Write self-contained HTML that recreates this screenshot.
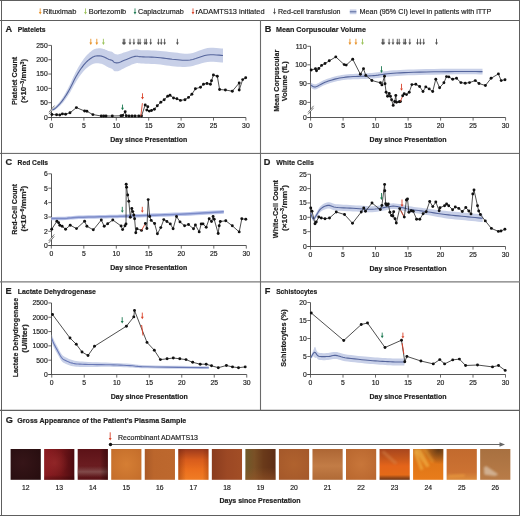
<!DOCTYPE html><html><head><meta charset="utf-8"><style>html,body{margin:0;padding:0;background:#fff;overflow:hidden;}svg{display:block;will-change:transform;}text{font-family:"Liberation Sans", sans-serif;}</style></head><body>
<svg width="520" height="516" viewBox="0 0 520 516">
<rect x="0" y="0" width="520" height="516" fill="#fff"/>
<line x1="40.20" y1="8.40" x2="40.20" y2="12.50" stroke="#e8922a" stroke-width="0.85"/>
<path d="M38.80,12.10 L41.60,12.10 L40.20,14.40Z" fill="#e8922a"/>
<text x="43.00" y="14.10" font-size="7.25" text-anchor="start" font-weight="normal" fill="#1e1e1e"  textLength="33.3" lengthAdjust="spacingAndGlyphs" stroke="#1e1e1e" stroke-width="0.18">Rituximab</text>
<line x1="85.50" y1="8.40" x2="85.50" y2="12.50" stroke="#9cc35c" stroke-width="0.85"/>
<path d="M84.10,12.10 L86.90,12.10 L85.50,14.40Z" fill="#9cc35c"/>
<text x="88.70" y="14.10" font-size="7.25" text-anchor="start" font-weight="normal" fill="#1e1e1e"  textLength="37.5" lengthAdjust="spacingAndGlyphs" stroke="#1e1e1e" stroke-width="0.18">Bortezomib</text>
<line x1="135.00" y1="8.40" x2="135.00" y2="12.50" stroke="#1e7a52" stroke-width="0.85"/>
<path d="M133.60,12.10 L136.40,12.10 L135.00,14.40Z" fill="#1e7a52"/>
<text x="138.00" y="14.10" font-size="7.25" text-anchor="start" font-weight="normal" fill="#1e1e1e"  textLength="45.8" lengthAdjust="spacingAndGlyphs" stroke="#1e1e1e" stroke-width="0.18">Caplacizumab</text>
<line x1="193.00" y1="8.40" x2="193.00" y2="12.50" stroke="#d9432b" stroke-width="0.85"/>
<path d="M191.60,12.10 L194.40,12.10 L193.00,14.40Z" fill="#d9432b"/>
<text x="195.50" y="14.10" font-size="7.25" text-anchor="start" font-weight="normal" fill="#1e1e1e"  textLength="69" lengthAdjust="spacingAndGlyphs" stroke="#1e1e1e" stroke-width="0.18">rADAMTS13 initiated</text>
<line x1="274.50" y1="8.40" x2="274.50" y2="12.50" stroke="#505050" stroke-width="0.85"/>
<path d="M273.10,12.10 L275.90,12.10 L274.50,14.40Z" fill="#505050"/>
<text x="278.00" y="14.10" font-size="7.25" text-anchor="start" font-weight="normal" fill="#1e1e1e"  textLength="62.5" lengthAdjust="spacingAndGlyphs" stroke="#1e1e1e" stroke-width="0.18">Red-cell transfusion</text>
<rect x="349.8" y="9.4" width="6.6" height="4.8" fill="#c8d0e8"/>
<line x1="349.80" y1="11.80" x2="356.40" y2="11.80" stroke="#55659c" stroke-width="1.0"/>
<text x="359.50" y="14.10" font-size="7.25" text-anchor="start" font-weight="normal" fill="#1e1e1e"  textLength="131.8" lengthAdjust="spacingAndGlyphs" stroke="#1e1e1e" stroke-width="0.18">Mean (95% CI) level in patients with iTTP</text>
<text x="5.60" y="32.00" font-size="9.2" text-anchor="start" font-weight="bold" fill="#1e1e1e"  stroke="#1e1e1e" stroke-width="0.2">A</text>
<text x="17.70" y="32.00" font-size="8.0" text-anchor="start" font-weight="bold" fill="#1e1e1e"  textLength="27.9" lengthAdjust="spacingAndGlyphs" stroke="#1e1e1e" stroke-width="0.2">Platelets</text>
<line x1="51.50" y1="45.40" x2="51.50" y2="117.50" stroke="#444" stroke-width="0.9"/>
<line x1="48.30" y1="117.50" x2="51.50" y2="117.50" stroke="#444" stroke-width="0.8"/>
<text x="47.70" y="119.85" font-size="6.8" text-anchor="end" font-weight="normal" fill="#1e1e1e" stroke="#1e1e1e" stroke-width="0.18">0</text>
<line x1="48.30" y1="102.68" x2="51.50" y2="102.68" stroke="#444" stroke-width="0.8"/>
<text x="47.70" y="105.03" font-size="6.8" text-anchor="end" font-weight="normal" fill="#1e1e1e" stroke="#1e1e1e" stroke-width="0.18">50</text>
<line x1="48.30" y1="88.36" x2="51.50" y2="88.36" stroke="#444" stroke-width="0.8"/>
<text x="47.70" y="90.71" font-size="6.8" text-anchor="end" font-weight="normal" fill="#1e1e1e" stroke="#1e1e1e" stroke-width="0.18">100</text>
<line x1="48.30" y1="74.04" x2="51.50" y2="74.04" stroke="#444" stroke-width="0.8"/>
<text x="47.70" y="76.39" font-size="6.8" text-anchor="end" font-weight="normal" fill="#1e1e1e" stroke="#1e1e1e" stroke-width="0.18">150</text>
<line x1="48.30" y1="59.72" x2="51.50" y2="59.72" stroke="#444" stroke-width="0.8"/>
<text x="47.70" y="62.07" font-size="6.8" text-anchor="end" font-weight="normal" fill="#1e1e1e" stroke="#1e1e1e" stroke-width="0.18">200</text>
<line x1="48.30" y1="45.40" x2="51.50" y2="45.40" stroke="#444" stroke-width="0.8"/>
<text x="47.70" y="47.75" font-size="6.8" text-anchor="end" font-weight="normal" fill="#1e1e1e" stroke="#1e1e1e" stroke-width="0.18">250</text>
<line x1="48.30" y1="117.50" x2="245.90" y2="117.50" stroke="#444" stroke-width="0.9"/>
<line x1="51.50" y1="117.50" x2="51.50" y2="120.60" stroke="#444" stroke-width="0.8"/>
<text x="51.50" y="127.90" font-size="6.8" text-anchor="middle" font-weight="normal" fill="#1e1e1e" stroke="#1e1e1e" stroke-width="0.18">0</text>
<line x1="83.90" y1="117.50" x2="83.90" y2="120.60" stroke="#444" stroke-width="0.8"/>
<text x="83.90" y="127.90" font-size="6.8" text-anchor="middle" font-weight="normal" fill="#1e1e1e" stroke="#1e1e1e" stroke-width="0.18">5</text>
<line x1="116.30" y1="117.50" x2="116.30" y2="120.60" stroke="#444" stroke-width="0.8"/>
<text x="116.30" y="127.90" font-size="6.8" text-anchor="middle" font-weight="normal" fill="#1e1e1e" stroke="#1e1e1e" stroke-width="0.18">10</text>
<line x1="148.70" y1="117.50" x2="148.70" y2="120.60" stroke="#444" stroke-width="0.8"/>
<text x="148.70" y="127.90" font-size="6.8" text-anchor="middle" font-weight="normal" fill="#1e1e1e" stroke="#1e1e1e" stroke-width="0.18">15</text>
<line x1="181.10" y1="117.50" x2="181.10" y2="120.60" stroke="#444" stroke-width="0.8"/>
<text x="181.10" y="127.90" font-size="6.8" text-anchor="middle" font-weight="normal" fill="#1e1e1e" stroke="#1e1e1e" stroke-width="0.18">20</text>
<line x1="213.50" y1="117.50" x2="213.50" y2="120.60" stroke="#444" stroke-width="0.8"/>
<text x="213.50" y="127.90" font-size="6.8" text-anchor="middle" font-weight="normal" fill="#1e1e1e" stroke="#1e1e1e" stroke-width="0.18">25</text>
<line x1="245.90" y1="117.50" x2="245.90" y2="120.60" stroke="#444" stroke-width="0.8"/>
<text x="245.90" y="127.90" font-size="6.8" text-anchor="middle" font-weight="normal" fill="#1e1e1e" stroke="#1e1e1e" stroke-width="0.18">30</text>
<text x="148.70" y="141.60" font-size="7.6" text-anchor="middle" font-weight="bold" fill="#1e1e1e"  textLength="77" lengthAdjust="spacingAndGlyphs" stroke="#1e1e1e" stroke-width="0.2">Day since Presentation</text>
<path d="M48.90,112.20 L54.50,105.60 L54.50,107.60 L48.90,114.20Z" fill="#fff"/>
<line x1="48.90" y1="112.20" x2="54.50" y2="105.60" stroke="#444" stroke-width="0.7"/>
<line x1="48.90" y1="114.20" x2="54.50" y2="107.60" stroke="#444" stroke-width="0.7"/>
<text transform="translate(14.20,80.90) rotate(-90)" x="0" y="2.74" font-size="7.6" text-anchor="middle" font-weight="bold" fill="#1e1e1e" stroke="#1e1e1e" stroke-width="0.2" textLength="48.2" lengthAdjust="spacingAndGlyphs">Platelet Count</text>
<text transform="translate(23.60,80.90) rotate(-90)" x="0" y="2.74" font-size="7.6" text-anchor="middle" font-weight="bold" fill="#1e1e1e" stroke="#1e1e1e" stroke-width="0.2" textLength="44" lengthAdjust="spacingAndGlyphs">(×10<tspan dy="-2.8" font-size="5">−3</tspan><tspan dy="2.8">/mm</tspan><tspan dy="-2.8" font-size="5">3</tspan><tspan dy="2.8">)</tspan></text>
<path d="M52.50,108.80 L52.74,108.67 L53.04,108.53 L53.41,108.34 L53.86,108.07 L54.39,107.67 L55.00,107.10 L55.74,106.33 L56.61,105.37 L57.57,104.30 L58.55,103.14 L59.51,101.97 L60.40,100.82 L61.21,99.69 L61.99,98.55 L62.75,97.39 L63.50,96.21 L64.24,94.98 L65.00,93.70 L65.75,92.41 L66.49,91.12 L67.22,89.79 L67.97,88.38 L68.76,86.85 L69.60,85.17 L70.52,83.25 L71.51,81.11 L72.54,78.85 L73.57,76.59 L74.57,74.44 L75.50,72.54 L76.34,70.91 L77.13,69.43 L77.88,68.07 L78.63,66.76 L79.39,65.48 L80.20,64.18 L81.06,62.83 L81.95,61.48 L82.86,60.16 L83.77,58.87 L84.69,57.66 L85.60,56.54 L86.52,55.51 L87.46,54.55 L88.39,53.65 L89.31,52.82 L90.19,52.07 L91.00,51.40 L91.72,50.82 L92.37,50.34 L92.97,49.93 L93.57,49.59 L94.20,49.29 L94.90,49.01 L95.69,48.78 L96.55,48.60 L97.44,48.46 L98.34,48.37 L99.20,48.32 L100.00,48.31 L100.72,48.34 L101.40,48.42 L102.04,48.54 L102.67,48.69 L103.32,48.88 L104.00,49.09 L104.73,49.35 L105.49,49.66 L106.26,50.00 L107.03,50.34 L107.78,50.66 L108.50,50.93 L109.19,51.14 L109.87,51.30 L110.54,51.44 L111.17,51.57 L111.76,51.73 L112.30,51.93 L112.75,52.21 L113.11,52.56 L113.43,52.92 L113.75,53.27 L114.13,53.58 L114.60,53.85 L115.16,54.05 L115.77,54.22 L116.43,54.33 L117.14,54.39 L117.92,54.38 L118.75,54.29 L119.63,54.09 L120.54,53.80 L121.51,53.44 L122.56,53.04 L123.72,52.61 L125.00,52.19 L126.50,51.73 L128.20,51.18 L130.02,50.61 L131.82,50.09 L133.52,49.66 L135.00,49.40 L136.11,49.32 L136.91,49.38 L137.59,49.54 L138.37,49.77 L139.44,50.02 L141.00,50.19 L143.13,50.25 L145.69,50.30 L148.53,50.35 L151.54,50.43 L154.57,50.54 L157.50,50.70 L160.39,50.94 L163.35,51.26 L166.34,51.61 L169.31,51.96 L172.22,52.27 L175.00,52.50 L177.62,52.84 L180.09,53.19 L182.50,53.49 L184.91,53.69 L187.38,53.75 L190.00,53.60 L192.80,52.95 L195.72,51.98 L198.72,50.86 L201.72,49.74 L204.67,48.78 L207.50,48.12 L210.38,47.82 L213.39,47.78 L216.34,47.94 L219.06,48.17 L221.34,48.38 L223.00,48.50 L223.00,62.50 L221.34,62.38 L219.06,62.17 L216.34,61.94 L213.39,61.78 L210.38,61.73 L207.50,61.88 L204.67,62.38 L201.72,63.18 L198.72,64.14 L195.72,65.09 L192.80,65.90 L190.00,66.40 L187.38,66.76 L184.91,66.90 L182.50,66.89 L180.09,66.78 L177.62,66.63 L175.00,66.50 L172.22,66.21 L169.31,65.83 L166.34,65.41 L163.35,64.99 L160.39,64.61 L157.50,64.30 L154.57,64.07 L151.54,63.89 L148.53,63.75 L145.69,63.63 L143.13,63.52 L141.00,63.41 L139.44,63.31 L138.37,63.23 L137.59,63.12 L136.91,63.07 L136.11,63.14 L135.00,63.40 L133.52,63.90 L131.82,64.59 L130.02,65.41 L128.20,66.27 L126.50,67.10 L125.00,67.81 L123.72,68.43 L122.56,69.05 L121.51,69.62 L120.54,70.14 L119.63,70.58 L118.75,70.91 L117.92,71.14 L117.14,71.28 L116.43,71.34 L115.77,71.33 L115.16,71.26 L114.60,71.15 L114.13,70.96 L113.75,70.63 L113.43,70.23 L113.11,69.81 L112.75,69.42 L112.30,69.07 L111.76,68.78 L111.17,68.52 L110.54,68.29 L109.87,68.05 L109.19,67.78 L108.50,67.47 L107.78,67.08 L107.03,66.64 L106.26,66.18 L105.49,65.71 L104.73,65.28 L104.00,64.91 L103.32,64.59 L102.67,64.31 L102.04,64.05 L101.40,63.83 L100.72,63.64 L100.00,63.49 L99.20,63.38 L98.34,63.30 L97.44,63.25 L96.55,63.24 L95.69,63.29 L94.90,63.39 L94.20,63.52 L93.57,63.70 L92.97,63.93 L92.37,64.21 L91.72,64.57 L91.00,65.00 L90.19,65.51 L89.31,66.08 L88.39,66.73 L87.46,67.44 L86.52,68.22 L85.60,69.06 L84.69,69.98 L83.77,70.98 L82.86,72.04 L81.95,73.15 L81.06,74.29 L80.20,75.42 L79.39,76.54 L78.63,77.64 L77.88,78.76 L77.13,79.94 L76.34,81.23 L75.50,82.66 L74.57,84.28 L73.57,86.07 L72.54,87.96 L71.51,89.85 L70.52,91.64 L69.60,93.23 L68.76,94.60 L67.97,95.85 L67.22,96.99 L66.49,98.06 L65.75,99.08 L65.00,100.10 L64.24,101.08 L63.50,102.01 L62.75,102.89 L61.99,103.75 L61.21,104.57 L60.40,105.38 L59.51,106.22 L58.55,107.08 L57.57,107.92 L56.61,108.69 L55.74,109.37 L55.00,109.90 L54.39,110.27 L53.86,110.50 L53.41,110.63 L53.04,110.70 L52.74,110.74 L52.50,110.80Z" fill="#c8d0e8"/>
<path d="M52.50,109.80 L52.74,109.71 L53.04,109.61 L53.41,109.49 L53.86,109.29 L54.39,108.97 L55.00,108.50 L55.74,107.85 L56.61,107.03 L57.57,106.11 L58.55,105.11 L59.51,104.09 L60.40,103.10 L61.21,102.13 L61.99,101.15 L62.75,100.14 L63.50,99.11 L64.24,98.03 L65.00,96.90 L65.75,95.75 L66.49,94.59 L67.22,93.39 L67.97,92.11 L68.76,90.73 L69.60,89.20 L70.52,87.45 L71.51,85.48 L72.54,83.41 L73.57,81.33 L74.57,79.36 L75.50,77.60 L76.34,76.07 L77.13,74.69 L77.88,73.41 L78.63,72.20 L79.39,71.01 L80.20,69.80 L81.06,68.56 L81.95,67.32 L82.86,66.10 L83.77,64.93 L84.69,63.82 L85.60,62.80 L86.52,61.86 L87.46,60.99 L88.39,60.19 L89.31,59.45 L90.19,58.79 L91.00,58.20 L91.72,57.70 L92.37,57.28 L92.97,56.93 L93.57,56.64 L94.20,56.40 L94.90,56.20 L95.69,56.04 L96.55,55.92 L97.44,55.86 L98.34,55.83 L99.20,55.85 L100.00,55.90 L100.72,55.99 L101.40,56.12 L102.04,56.29 L102.67,56.50 L103.32,56.74 L104.00,57.00 L104.73,57.31 L105.49,57.69 L106.26,58.09 L107.03,58.49 L107.78,58.87 L108.50,59.20 L109.19,59.46 L109.87,59.67 L110.54,59.86 L111.17,60.05 L111.76,60.25 L112.30,60.50 L112.75,60.81 L113.11,61.19 L113.43,61.58 L113.75,61.95 L114.13,62.27 L114.60,62.50 L115.16,62.66 L115.77,62.77 L116.43,62.84 L117.14,62.84 L117.92,62.76 L118.75,62.60 L119.63,62.33 L120.54,61.97 L121.51,61.53 L122.56,61.04 L123.72,60.52 L125.00,60.00 L126.50,59.41 L128.20,58.73 L130.02,58.01 L131.82,57.34 L133.52,56.78 L135.00,56.40 L136.11,56.23 L136.91,56.23 L137.59,56.33 L138.37,56.50 L139.44,56.67 L141.00,56.80 L143.13,56.88 L145.69,56.96 L148.53,57.05 L151.54,57.16 L154.57,57.30 L157.50,57.50 L160.39,57.78 L163.35,58.13 L166.34,58.51 L169.31,58.90 L172.22,59.24 L175.00,59.50 L177.62,59.73 L180.09,59.98 L182.50,60.19 L184.91,60.30 L187.38,60.25 L190.00,60.00 L192.80,59.42 L195.72,58.54 L198.72,57.50 L201.72,56.46 L204.67,55.58 L207.50,55.00 L210.38,54.77 L213.39,54.78 L216.34,54.94 L219.06,55.17 L221.34,55.38 L223.00,55.50" fill="none" stroke="#55659c" stroke-width="1.1" stroke-linejoin="round"/>
<path d="M51.90,114.50 L56.60,114.80 L59.80,115.00 L62.40,113.90 L65.60,114.20 L70.00,112.80 L76.40,107.60 L84.60,111.00 L86.90,111.30 L92.90,114.60 L101.30,116.00 L103.70,116.00 L106.00,116.00 L112.30,116.00 L121.00,115.80 L122.70,115.50 L125.20,111.70 L126.20,115.80 L129.00,116.00 L132.00,116.00 L135.00,116.00 L138.80,116.00 L141.50,116.00 L145.20,105.00 L147.80,106.80 L146.80,110.10 L149.30,111.10 L151.50,110.50 L154.40,109.20 L157.30,105.70 L160.80,102.20 L164.20,99.70 L167.70,96.20 L170.00,95.30 L173.50,98.00 L176.90,98.80 L180.40,100.40 L185.00,99.70 L188.50,97.40 L191.90,94.20 L195.40,88.80 L200.50,87.20 L203.50,84.20 L207.00,83.50 L210.40,84.20 L211.50,80.80 L213.40,75.00 L217.30,76.20 L219.60,89.50 L225.40,90.00 L232.30,91.20 L239.20,83.00 L239.20,90.00 L242.70,79.60 L245.70,77.80" fill="none" stroke="#222" stroke-width="0.8" stroke-linejoin="round"/>
<circle cx="51.90" cy="114.50" r="1.45" fill="#111"/>
<circle cx="56.60" cy="114.80" r="1.45" fill="#111"/>
<circle cx="59.80" cy="115.00" r="1.45" fill="#111"/>
<circle cx="62.40" cy="113.90" r="1.45" fill="#111"/>
<circle cx="65.60" cy="114.20" r="1.45" fill="#111"/>
<circle cx="70.00" cy="112.80" r="1.45" fill="#111"/>
<circle cx="76.40" cy="107.60" r="1.45" fill="#111"/>
<circle cx="84.60" cy="111.00" r="1.45" fill="#111"/>
<circle cx="86.90" cy="111.30" r="1.45" fill="#111"/>
<circle cx="92.90" cy="114.60" r="1.45" fill="#111"/>
<circle cx="101.30" cy="116.00" r="1.45" fill="#111"/>
<circle cx="103.70" cy="116.00" r="1.45" fill="#111"/>
<circle cx="106.00" cy="116.00" r="1.45" fill="#111"/>
<circle cx="112.30" cy="116.00" r="1.45" fill="#111"/>
<circle cx="121.00" cy="115.80" r="1.45" fill="#111"/>
<circle cx="122.70" cy="115.50" r="1.45" fill="#111"/>
<circle cx="125.20" cy="111.70" r="1.45" fill="#111"/>
<circle cx="126.20" cy="115.80" r="1.45" fill="#111"/>
<circle cx="129.00" cy="116.00" r="1.45" fill="#111"/>
<circle cx="132.00" cy="116.00" r="1.45" fill="#111"/>
<circle cx="135.00" cy="116.00" r="1.45" fill="#111"/>
<circle cx="138.80" cy="116.00" r="1.45" fill="#111"/>
<circle cx="141.50" cy="116.00" r="1.45" fill="#111"/>
<circle cx="145.20" cy="105.00" r="1.45" fill="#111"/>
<circle cx="147.80" cy="106.80" r="1.45" fill="#111"/>
<circle cx="146.80" cy="110.10" r="1.45" fill="#111"/>
<circle cx="149.30" cy="111.10" r="1.45" fill="#111"/>
<circle cx="151.50" cy="110.50" r="1.45" fill="#111"/>
<circle cx="154.40" cy="109.20" r="1.45" fill="#111"/>
<circle cx="157.30" cy="105.70" r="1.45" fill="#111"/>
<circle cx="160.80" cy="102.20" r="1.45" fill="#111"/>
<circle cx="164.20" cy="99.70" r="1.45" fill="#111"/>
<circle cx="167.70" cy="96.20" r="1.45" fill="#111"/>
<circle cx="170.00" cy="95.30" r="1.45" fill="#111"/>
<circle cx="173.50" cy="98.00" r="1.45" fill="#111"/>
<circle cx="176.90" cy="98.80" r="1.45" fill="#111"/>
<circle cx="180.40" cy="100.40" r="1.45" fill="#111"/>
<circle cx="185.00" cy="99.70" r="1.45" fill="#111"/>
<circle cx="188.50" cy="97.40" r="1.45" fill="#111"/>
<circle cx="191.90" cy="94.20" r="1.45" fill="#111"/>
<circle cx="195.40" cy="88.80" r="1.45" fill="#111"/>
<circle cx="200.50" cy="87.20" r="1.45" fill="#111"/>
<circle cx="203.50" cy="84.20" r="1.45" fill="#111"/>
<circle cx="207.00" cy="83.50" r="1.45" fill="#111"/>
<circle cx="210.40" cy="84.20" r="1.45" fill="#111"/>
<circle cx="211.50" cy="80.80" r="1.45" fill="#111"/>
<circle cx="213.40" cy="75.00" r="1.45" fill="#111"/>
<circle cx="217.30" cy="76.20" r="1.45" fill="#111"/>
<circle cx="219.60" cy="89.50" r="1.45" fill="#111"/>
<circle cx="225.40" cy="90.00" r="1.45" fill="#111"/>
<circle cx="232.30" cy="91.20" r="1.45" fill="#111"/>
<circle cx="239.20" cy="83.00" r="1.45" fill="#111"/>
<circle cx="239.20" cy="90.00" r="1.45" fill="#111"/>
<circle cx="242.70" cy="79.60" r="1.45" fill="#111"/>
<circle cx="245.70" cy="77.80" r="1.45" fill="#111"/>
<line x1="140.80" y1="116.20" x2="142.40" y2="103.20" stroke="#d9432b" stroke-width="0.9"/>
<line x1="90.80" y1="38.80" x2="90.80" y2="43.00" stroke="#e8922a" stroke-width="0.9"/>
<path d="M89.35,42.60 L92.25,42.60 L90.80,45.00Z" fill="#e8922a"/>
<line x1="96.80" y1="38.80" x2="96.80" y2="43.00" stroke="#e8922a" stroke-width="0.9"/>
<path d="M95.35,42.60 L98.25,42.60 L96.80,45.00Z" fill="#e8922a"/>
<line x1="103.40" y1="38.80" x2="103.40" y2="43.00" stroke="#9cc35c" stroke-width="0.9"/>
<path d="M101.95,42.60 L104.85,42.60 L103.40,45.00Z" fill="#9cc35c"/>
<line x1="123.30" y1="38.80" x2="123.30" y2="43.00" stroke="#505050" stroke-width="0.9"/>
<path d="M121.85,42.60 L124.75,42.60 L123.30,45.00Z" fill="#505050"/>
<line x1="124.70" y1="38.80" x2="124.70" y2="43.00" stroke="#505050" stroke-width="0.9"/>
<path d="M123.25,42.60 L126.15,42.60 L124.70,45.00Z" fill="#505050"/>
<line x1="130.00" y1="38.80" x2="130.00" y2="43.00" stroke="#505050" stroke-width="0.9"/>
<path d="M128.55,42.60 L131.45,42.60 L130.00,45.00Z" fill="#505050"/>
<line x1="133.90" y1="38.80" x2="133.90" y2="43.00" stroke="#505050" stroke-width="0.9"/>
<path d="M132.45,42.60 L135.35,42.60 L133.90,45.00Z" fill="#505050"/>
<line x1="138.20" y1="38.80" x2="138.20" y2="43.00" stroke="#505050" stroke-width="0.9"/>
<path d="M136.75,42.60 L139.65,42.60 L138.20,45.00Z" fill="#505050"/>
<line x1="140.10" y1="38.80" x2="140.10" y2="43.00" stroke="#505050" stroke-width="0.9"/>
<path d="M138.65,42.60 L141.55,42.60 L140.10,45.00Z" fill="#505050"/>
<line x1="144.90" y1="38.80" x2="144.90" y2="43.00" stroke="#505050" stroke-width="0.9"/>
<path d="M143.45,42.60 L146.35,42.60 L144.90,45.00Z" fill="#505050"/>
<line x1="146.40" y1="38.80" x2="146.40" y2="43.00" stroke="#505050" stroke-width="0.9"/>
<path d="M144.95,42.60 L147.85,42.60 L146.40,45.00Z" fill="#505050"/>
<line x1="150.70" y1="38.80" x2="150.70" y2="43.00" stroke="#505050" stroke-width="0.9"/>
<path d="M149.25,42.60 L152.15,42.60 L150.70,45.00Z" fill="#505050"/>
<line x1="158.40" y1="38.80" x2="158.40" y2="43.00" stroke="#505050" stroke-width="0.9"/>
<path d="M156.95,42.60 L159.85,42.60 L158.40,45.00Z" fill="#505050"/>
<line x1="161.30" y1="38.80" x2="161.30" y2="43.00" stroke="#505050" stroke-width="0.9"/>
<path d="M159.85,42.60 L162.75,42.60 L161.30,45.00Z" fill="#505050"/>
<line x1="164.60" y1="38.80" x2="164.60" y2="43.00" stroke="#505050" stroke-width="0.9"/>
<path d="M163.15,42.60 L166.05,42.60 L164.60,45.00Z" fill="#505050"/>
<line x1="177.40" y1="38.80" x2="177.40" y2="43.00" stroke="#505050" stroke-width="0.9"/>
<path d="M175.95,42.60 L178.85,42.60 L177.40,45.00Z" fill="#505050"/>
<line x1="122.50" y1="104.60" x2="122.50" y2="108.20" stroke="#1e7a52" stroke-width="0.9"/>
<path d="M121.05,107.80 L123.95,107.80 L122.50,110.20Z" fill="#1e7a52"/>
<line x1="142.50" y1="93.30" x2="142.50" y2="97.50" stroke="#d9432b" stroke-width="0.9"/>
<path d="M141.05,97.10 L143.95,97.10 L142.50,99.50Z" fill="#d9432b"/>
<text x="264.80" y="32.00" font-size="9.2" text-anchor="start" font-weight="bold" fill="#1e1e1e"  stroke="#1e1e1e" stroke-width="0.2">B</text>
<text x="276.00" y="32.00" font-size="8.0" text-anchor="start" font-weight="bold" fill="#1e1e1e"  textLength="90" lengthAdjust="spacingAndGlyphs" stroke="#1e1e1e" stroke-width="0.2">Mean Corpuscular Volume</text>
<line x1="310.50" y1="46.30" x2="310.50" y2="117.50" stroke="#444" stroke-width="0.9"/>
<line x1="307.30" y1="46.30" x2="310.50" y2="46.30" stroke="#444" stroke-width="0.8"/>
<text x="306.70" y="48.65" font-size="6.8" text-anchor="end" font-weight="normal" fill="#1e1e1e" stroke="#1e1e1e" stroke-width="0.18">110</text>
<line x1="307.30" y1="64.80" x2="310.50" y2="64.80" stroke="#444" stroke-width="0.8"/>
<text x="306.70" y="67.15" font-size="6.8" text-anchor="end" font-weight="normal" fill="#1e1e1e" stroke="#1e1e1e" stroke-width="0.18">100</text>
<line x1="307.30" y1="83.60" x2="310.50" y2="83.60" stroke="#444" stroke-width="0.8"/>
<text x="306.70" y="85.95" font-size="6.8" text-anchor="end" font-weight="normal" fill="#1e1e1e" stroke="#1e1e1e" stroke-width="0.18">90</text>
<line x1="307.30" y1="102.40" x2="310.50" y2="102.40" stroke="#444" stroke-width="0.8"/>
<text x="306.70" y="104.75" font-size="6.8" text-anchor="end" font-weight="normal" fill="#1e1e1e" stroke="#1e1e1e" stroke-width="0.18">80</text>
<line x1="307.30" y1="117.50" x2="310.50" y2="117.50" stroke="#444" stroke-width="0.8"/>
<text x="306.70" y="119.85" font-size="6.8" text-anchor="end" font-weight="normal" fill="#1e1e1e" stroke="#1e1e1e" stroke-width="0.18">0</text>
<line x1="307.30" y1="117.50" x2="505.60" y2="117.50" stroke="#444" stroke-width="0.9"/>
<line x1="310.60" y1="117.50" x2="310.60" y2="120.60" stroke="#444" stroke-width="0.8"/>
<text x="310.60" y="127.90" font-size="6.8" text-anchor="middle" font-weight="normal" fill="#1e1e1e" stroke="#1e1e1e" stroke-width="0.18">0</text>
<line x1="343.10" y1="117.50" x2="343.10" y2="120.60" stroke="#444" stroke-width="0.8"/>
<text x="343.10" y="127.90" font-size="6.8" text-anchor="middle" font-weight="normal" fill="#1e1e1e" stroke="#1e1e1e" stroke-width="0.18">5</text>
<line x1="375.60" y1="117.50" x2="375.60" y2="120.60" stroke="#444" stroke-width="0.8"/>
<text x="375.60" y="127.90" font-size="6.8" text-anchor="middle" font-weight="normal" fill="#1e1e1e" stroke="#1e1e1e" stroke-width="0.18">10</text>
<line x1="408.10" y1="117.50" x2="408.10" y2="120.60" stroke="#444" stroke-width="0.8"/>
<text x="408.10" y="127.90" font-size="6.8" text-anchor="middle" font-weight="normal" fill="#1e1e1e" stroke="#1e1e1e" stroke-width="0.18">15</text>
<line x1="440.60" y1="117.50" x2="440.60" y2="120.60" stroke="#444" stroke-width="0.8"/>
<text x="440.60" y="127.90" font-size="6.8" text-anchor="middle" font-weight="normal" fill="#1e1e1e" stroke="#1e1e1e" stroke-width="0.18">20</text>
<line x1="473.10" y1="117.50" x2="473.10" y2="120.60" stroke="#444" stroke-width="0.8"/>
<text x="473.10" y="127.90" font-size="6.8" text-anchor="middle" font-weight="normal" fill="#1e1e1e" stroke="#1e1e1e" stroke-width="0.18">25</text>
<line x1="505.60" y1="117.50" x2="505.60" y2="120.60" stroke="#444" stroke-width="0.8"/>
<text x="505.60" y="127.90" font-size="6.8" text-anchor="middle" font-weight="normal" fill="#1e1e1e" stroke="#1e1e1e" stroke-width="0.18">30</text>
<text x="408.10" y="141.70" font-size="7.6" text-anchor="middle" font-weight="bold" fill="#1e1e1e"  textLength="77" lengthAdjust="spacingAndGlyphs" stroke="#1e1e1e" stroke-width="0.2">Day since Presentation</text>
<path d="M308.00,112.40 L313.60,105.80 L313.60,107.80 L308.00,114.40Z" fill="#fff"/>
<line x1="308.00" y1="112.40" x2="313.60" y2="105.80" stroke="#444" stroke-width="0.7"/>
<line x1="308.00" y1="114.40" x2="313.60" y2="107.80" stroke="#444" stroke-width="0.7"/>
<text transform="translate(276.00,80.80) rotate(-90)" x="0" y="2.74" font-size="7.6" text-anchor="middle" font-weight="bold" fill="#1e1e1e" stroke="#1e1e1e" stroke-width="0.2" textLength="62" lengthAdjust="spacingAndGlyphs">Mean Corpuscular</text>
<text transform="translate(284.00,81.20) rotate(-90)" x="0" y="2.74" font-size="7.6" text-anchor="middle" font-weight="bold" fill="#1e1e1e" stroke="#1e1e1e" stroke-width="0.2" textLength="40" lengthAdjust="spacingAndGlyphs">Volume (fL)</text>
<path d="M310.80,82.50 L311.17,82.72 L311.69,83.06 L312.31,83.44 L312.96,83.82 L313.61,84.12 L314.20,84.30 L314.68,84.37 L315.09,84.37 L315.48,84.31 L315.94,84.16 L316.52,83.93 L317.30,83.60 L318.28,83.13 L319.41,82.52 L320.67,81.82 L322.03,81.08 L323.48,80.36 L325.00,79.70 L326.60,79.09 L328.32,78.48 L330.12,77.88 L331.98,77.31 L333.88,76.78 L335.80,76.30 L337.71,75.87 L339.64,75.48 L341.61,75.12 L343.64,74.79 L345.76,74.50 L348.00,74.24 L350.43,74.03 L353.04,73.88 L355.74,73.76 L358.45,73.65 L361.06,73.55 L363.50,73.42 L365.71,73.29 L367.75,73.17 L369.71,73.05 L371.65,72.91 L373.65,72.75 L375.80,72.53 L378.00,72.25 L380.18,71.92 L382.42,71.58 L384.82,71.23 L387.45,70.90 L390.40,70.61 L393.55,70.37 L396.79,70.15 L400.27,69.95 L404.12,69.77 L408.49,69.60 L413.50,69.43 L419.51,69.27 L426.49,69.12 L433.98,68.97 L441.52,68.85 L448.68,68.75 L455.00,68.67 L460.71,68.65 L466.22,68.66 L471.34,68.69 L475.89,68.74 L479.67,68.78 L482.50,68.80 L482.50,74.40 L479.67,74.38 L475.89,74.34 L471.34,74.31 L466.22,74.28 L460.71,74.29 L455.00,74.33 L448.68,74.41 L441.52,74.52 L433.98,74.66 L426.49,74.82 L419.51,74.99 L413.50,75.17 L408.49,75.34 L404.12,75.52 L400.27,75.71 L396.79,75.92 L393.55,76.14 L390.40,76.39 L387.45,76.68 L384.82,77.02 L382.42,77.37 L380.18,77.72 L378.00,78.02 L375.80,78.27 L373.65,78.45 L371.65,78.59 L369.71,78.70 L367.75,78.79 L365.71,78.88 L363.50,78.98 L361.06,79.07 L358.45,79.13 L355.74,79.19 L353.04,79.27 L350.43,79.39 L348.00,79.56 L345.76,79.79 L343.64,80.05 L341.61,80.34 L339.64,80.68 L337.71,81.07 L335.80,81.50 L333.88,81.98 L331.98,82.51 L330.12,83.08 L328.32,83.68 L326.60,84.29 L325.00,84.90 L323.48,85.56 L322.03,86.28 L320.67,87.02 L319.41,87.72 L318.28,88.33 L317.30,88.80 L316.52,89.13 L315.94,89.36 L315.48,89.51 L315.09,89.57 L314.68,89.57 L314.20,89.50 L313.61,89.32 L312.96,89.02 L312.31,88.64 L311.69,88.26 L311.17,87.92 L310.80,87.70Z" fill="#c8d0e8"/>
<path d="M310.80,85.10 L311.17,85.32 L311.69,85.66 L312.31,86.04 L312.96,86.42 L313.61,86.72 L314.20,86.90 L314.68,86.97 L315.09,86.97 L315.48,86.91 L315.94,86.76 L316.52,86.53 L317.30,86.20 L318.28,85.73 L319.41,85.12 L320.67,84.42 L322.03,83.68 L323.48,82.96 L325.00,82.30 L326.60,81.69 L328.32,81.08 L330.12,80.48 L331.98,79.91 L333.88,79.38 L335.80,78.90 L337.71,78.47 L339.64,78.08 L341.61,77.73 L343.64,77.42 L345.76,77.14 L348.00,76.90 L350.43,76.71 L353.04,76.57 L355.74,76.48 L358.45,76.39 L361.06,76.31 L363.50,76.20 L365.71,76.09 L367.75,75.98 L369.71,75.88 L371.65,75.75 L373.65,75.60 L375.80,75.40 L378.00,75.14 L380.18,74.82 L382.42,74.48 L384.82,74.12 L387.45,73.79 L390.40,73.50 L393.55,73.25 L396.79,73.03 L400.27,72.83 L404.12,72.64 L408.49,72.47 L413.50,72.30 L419.51,72.13 L426.49,71.97 L433.98,71.82 L441.52,71.69 L448.68,71.58 L455.00,71.50 L460.71,71.47 L466.22,71.47 L471.34,71.50 L475.89,71.54 L479.67,71.58 L482.50,71.60" fill="none" stroke="#55659c" stroke-width="1.1" stroke-linejoin="round"/>
<path d="M311.20,70.00 L315.50,68.80 L316.50,70.80 L318.80,68.50 L321.60,65.40 L325.00,63.50 L329.30,60.80 L335.80,56.90 L344.20,64.60 L346.20,65.10 L352.70,59.20 L360.40,74.30 L363.50,68.80 L365.80,75.40 L371.90,80.50 L380.40,82.80 L381.90,84.90 L384.50,76.20 L385.00,83.80 L386.10,92.30 L387.60,96.20 L389.20,93.50 L390.40,96.20 L391.60,99.70 L393.20,105.40 L394.70,101.50 L395.80,95.40 L396.50,102.30 L399.30,101.80 L400.40,101.50" fill="none" stroke="#222" stroke-width="0.8" stroke-linejoin="round"/>
<circle cx="311.20" cy="70.00" r="1.45" fill="#111"/>
<circle cx="315.50" cy="68.80" r="1.45" fill="#111"/>
<circle cx="316.50" cy="70.80" r="1.45" fill="#111"/>
<circle cx="318.80" cy="68.50" r="1.45" fill="#111"/>
<circle cx="321.60" cy="65.40" r="1.45" fill="#111"/>
<circle cx="325.00" cy="63.50" r="1.45" fill="#111"/>
<circle cx="329.30" cy="60.80" r="1.45" fill="#111"/>
<circle cx="335.80" cy="56.90" r="1.45" fill="#111"/>
<circle cx="344.20" cy="64.60" r="1.45" fill="#111"/>
<circle cx="346.20" cy="65.10" r="1.45" fill="#111"/>
<circle cx="352.70" cy="59.20" r="1.45" fill="#111"/>
<circle cx="360.40" cy="74.30" r="1.45" fill="#111"/>
<circle cx="363.50" cy="68.80" r="1.45" fill="#111"/>
<circle cx="365.80" cy="75.40" r="1.45" fill="#111"/>
<circle cx="371.90" cy="80.50" r="1.45" fill="#111"/>
<circle cx="380.40" cy="82.80" r="1.45" fill="#111"/>
<circle cx="381.90" cy="84.90" r="1.45" fill="#111"/>
<circle cx="384.50" cy="76.20" r="1.45" fill="#111"/>
<circle cx="385.00" cy="83.80" r="1.45" fill="#111"/>
<circle cx="386.10" cy="92.30" r="1.45" fill="#111"/>
<circle cx="387.60" cy="96.20" r="1.45" fill="#111"/>
<circle cx="389.20" cy="93.50" r="1.45" fill="#111"/>
<circle cx="390.40" cy="96.20" r="1.45" fill="#111"/>
<circle cx="391.60" cy="99.70" r="1.45" fill="#111"/>
<circle cx="393.20" cy="105.40" r="1.45" fill="#111"/>
<circle cx="394.70" cy="101.50" r="1.45" fill="#111"/>
<circle cx="395.80" cy="95.40" r="1.45" fill="#111"/>
<circle cx="396.50" cy="102.30" r="1.45" fill="#111"/>
<circle cx="399.30" cy="101.80" r="1.45" fill="#111"/>
<circle cx="400.40" cy="101.50" r="1.45" fill="#111"/>
<line x1="400.40" y1="101.50" x2="403.00" y2="95.00" stroke="#d9432b" stroke-width="0.9"/>
<path d="M402.70,95.70 L404.20,93.80 L406.50,94.60 L409.20,92.30 L411.90,84.60 L415.80,84.30 L419.60,86.50 L423.00,91.50 L425.80,86.90 L429.20,88.90 L432.70,91.50 L435.80,79.20 L439.60,87.70 L443.90,82.80 L446.50,76.60 L448.80,76.90 L452.70,79.20 L456.50,78.30 L460.90,82.60 L465.20,83.20 L469.50,82.60 L475.30,80.60 L479.00,83.50 L485.40,85.50 L491.10,78.30 L498.40,73.90 L501.20,80.60 L505.00,79.70" fill="none" stroke="#222" stroke-width="0.8" stroke-linejoin="round"/>
<circle cx="402.70" cy="95.70" r="1.45" fill="#111"/>
<circle cx="404.20" cy="93.80" r="1.45" fill="#111"/>
<circle cx="406.50" cy="94.60" r="1.45" fill="#111"/>
<circle cx="409.20" cy="92.30" r="1.45" fill="#111"/>
<circle cx="411.90" cy="84.60" r="1.45" fill="#111"/>
<circle cx="415.80" cy="84.30" r="1.45" fill="#111"/>
<circle cx="419.60" cy="86.50" r="1.45" fill="#111"/>
<circle cx="423.00" cy="91.50" r="1.45" fill="#111"/>
<circle cx="425.80" cy="86.90" r="1.45" fill="#111"/>
<circle cx="429.20" cy="88.90" r="1.45" fill="#111"/>
<circle cx="432.70" cy="91.50" r="1.45" fill="#111"/>
<circle cx="435.80" cy="79.20" r="1.45" fill="#111"/>
<circle cx="439.60" cy="87.70" r="1.45" fill="#111"/>
<circle cx="443.90" cy="82.80" r="1.45" fill="#111"/>
<circle cx="446.50" cy="76.60" r="1.45" fill="#111"/>
<circle cx="448.80" cy="76.90" r="1.45" fill="#111"/>
<circle cx="452.70" cy="79.20" r="1.45" fill="#111"/>
<circle cx="456.50" cy="78.30" r="1.45" fill="#111"/>
<circle cx="460.90" cy="82.60" r="1.45" fill="#111"/>
<circle cx="465.20" cy="83.20" r="1.45" fill="#111"/>
<circle cx="469.50" cy="82.60" r="1.45" fill="#111"/>
<circle cx="475.30" cy="80.60" r="1.45" fill="#111"/>
<circle cx="479.00" cy="83.50" r="1.45" fill="#111"/>
<circle cx="485.40" cy="85.50" r="1.45" fill="#111"/>
<circle cx="491.10" cy="78.30" r="1.45" fill="#111"/>
<circle cx="498.40" cy="73.90" r="1.45" fill="#111"/>
<circle cx="501.20" cy="80.60" r="1.45" fill="#111"/>
<circle cx="505.00" cy="79.70" r="1.45" fill="#111"/>
<line x1="349.90" y1="38.80" x2="349.90" y2="43.00" stroke="#e8922a" stroke-width="0.9"/>
<path d="M348.45,42.60 L351.35,42.60 L349.90,45.00Z" fill="#e8922a"/>
<line x1="355.90" y1="38.80" x2="355.90" y2="43.00" stroke="#e8922a" stroke-width="0.9"/>
<path d="M354.45,42.60 L357.35,42.60 L355.90,45.00Z" fill="#e8922a"/>
<line x1="362.50" y1="38.80" x2="362.50" y2="43.00" stroke="#9cc35c" stroke-width="0.9"/>
<path d="M361.05,42.60 L363.95,42.60 L362.50,45.00Z" fill="#9cc35c"/>
<line x1="382.40" y1="38.80" x2="382.40" y2="43.00" stroke="#505050" stroke-width="0.9"/>
<path d="M380.95,42.60 L383.85,42.60 L382.40,45.00Z" fill="#505050"/>
<line x1="383.80" y1="38.80" x2="383.80" y2="43.00" stroke="#505050" stroke-width="0.9"/>
<path d="M382.35,42.60 L385.25,42.60 L383.80,45.00Z" fill="#505050"/>
<line x1="389.10" y1="38.80" x2="389.10" y2="43.00" stroke="#505050" stroke-width="0.9"/>
<path d="M387.65,42.60 L390.55,42.60 L389.10,45.00Z" fill="#505050"/>
<line x1="393.00" y1="38.80" x2="393.00" y2="43.00" stroke="#505050" stroke-width="0.9"/>
<path d="M391.55,42.60 L394.45,42.60 L393.00,45.00Z" fill="#505050"/>
<line x1="397.30" y1="38.80" x2="397.30" y2="43.00" stroke="#505050" stroke-width="0.9"/>
<path d="M395.85,42.60 L398.75,42.60 L397.30,45.00Z" fill="#505050"/>
<line x1="399.20" y1="38.80" x2="399.20" y2="43.00" stroke="#505050" stroke-width="0.9"/>
<path d="M397.75,42.60 L400.65,42.60 L399.20,45.00Z" fill="#505050"/>
<line x1="404.00" y1="38.80" x2="404.00" y2="43.00" stroke="#505050" stroke-width="0.9"/>
<path d="M402.55,42.60 L405.45,42.60 L404.00,45.00Z" fill="#505050"/>
<line x1="405.50" y1="38.80" x2="405.50" y2="43.00" stroke="#505050" stroke-width="0.9"/>
<path d="M404.05,42.60 L406.95,42.60 L405.50,45.00Z" fill="#505050"/>
<line x1="409.80" y1="38.80" x2="409.80" y2="43.00" stroke="#505050" stroke-width="0.9"/>
<path d="M408.35,42.60 L411.25,42.60 L409.80,45.00Z" fill="#505050"/>
<line x1="417.50" y1="38.80" x2="417.50" y2="43.00" stroke="#505050" stroke-width="0.9"/>
<path d="M416.05,42.60 L418.95,42.60 L417.50,45.00Z" fill="#505050"/>
<line x1="420.40" y1="38.80" x2="420.40" y2="43.00" stroke="#505050" stroke-width="0.9"/>
<path d="M418.95,42.60 L421.85,42.60 L420.40,45.00Z" fill="#505050"/>
<line x1="423.70" y1="38.80" x2="423.70" y2="43.00" stroke="#505050" stroke-width="0.9"/>
<path d="M422.25,42.60 L425.15,42.60 L423.70,45.00Z" fill="#505050"/>
<line x1="436.50" y1="38.80" x2="436.50" y2="43.00" stroke="#505050" stroke-width="0.9"/>
<path d="M435.05,42.60 L437.95,42.60 L436.50,45.00Z" fill="#505050"/>
<line x1="381.50" y1="66.20" x2="381.50" y2="71.00" stroke="#1e7a52" stroke-width="0.9"/>
<path d="M380.05,70.60 L382.95,70.60 L381.50,73.00Z" fill="#1e7a52"/>
<line x1="401.50" y1="83.80" x2="401.50" y2="88.80" stroke="#d9432b" stroke-width="0.9"/>
<path d="M400.05,88.40 L402.95,88.40 L401.50,90.80Z" fill="#d9432b"/>
<text x="5.60" y="165.00" font-size="9.2" text-anchor="start" font-weight="bold" fill="#1e1e1e"  stroke="#1e1e1e" stroke-width="0.2">C</text>
<text x="17.60" y="165.00" font-size="8.0" text-anchor="start" font-weight="bold" fill="#1e1e1e"  textLength="30.5" lengthAdjust="spacingAndGlyphs" stroke="#1e1e1e" stroke-width="0.2">Red Cells</text>
<line x1="51.50" y1="173.80" x2="51.50" y2="245.50" stroke="#444" stroke-width="0.9"/>
<line x1="48.30" y1="173.80" x2="51.50" y2="173.80" stroke="#444" stroke-width="0.8"/>
<text x="47.70" y="176.15" font-size="6.8" text-anchor="end" font-weight="normal" fill="#1e1e1e" stroke="#1e1e1e" stroke-width="0.18">6</text>
<line x1="48.30" y1="188.20" x2="51.50" y2="188.20" stroke="#444" stroke-width="0.8"/>
<text x="47.70" y="190.55" font-size="6.8" text-anchor="end" font-weight="normal" fill="#1e1e1e" stroke="#1e1e1e" stroke-width="0.18">5</text>
<line x1="48.30" y1="202.60" x2="51.50" y2="202.60" stroke="#444" stroke-width="0.8"/>
<text x="47.70" y="204.95" font-size="6.8" text-anchor="end" font-weight="normal" fill="#1e1e1e" stroke="#1e1e1e" stroke-width="0.18">4</text>
<line x1="48.30" y1="217.00" x2="51.50" y2="217.00" stroke="#444" stroke-width="0.8"/>
<text x="47.70" y="219.35" font-size="6.8" text-anchor="end" font-weight="normal" fill="#1e1e1e" stroke="#1e1e1e" stroke-width="0.18">3</text>
<line x1="48.30" y1="231.30" x2="51.50" y2="231.30" stroke="#444" stroke-width="0.8"/>
<text x="47.70" y="233.65" font-size="6.8" text-anchor="end" font-weight="normal" fill="#1e1e1e" stroke="#1e1e1e" stroke-width="0.18">2</text>
<line x1="48.30" y1="245.50" x2="51.50" y2="245.50" stroke="#444" stroke-width="0.8"/>
<text x="47.70" y="247.85" font-size="6.8" text-anchor="end" font-weight="normal" fill="#1e1e1e" stroke="#1e1e1e" stroke-width="0.18">0</text>
<line x1="48.30" y1="245.50" x2="246.30" y2="245.50" stroke="#444" stroke-width="0.9"/>
<line x1="51.30" y1="245.50" x2="51.30" y2="248.60" stroke="#444" stroke-width="0.8"/>
<text x="51.30" y="255.90" font-size="6.8" text-anchor="middle" font-weight="normal" fill="#1e1e1e" stroke="#1e1e1e" stroke-width="0.18">0</text>
<line x1="83.80" y1="245.50" x2="83.80" y2="248.60" stroke="#444" stroke-width="0.8"/>
<text x="83.80" y="255.90" font-size="6.8" text-anchor="middle" font-weight="normal" fill="#1e1e1e" stroke="#1e1e1e" stroke-width="0.18">5</text>
<line x1="116.30" y1="245.50" x2="116.30" y2="248.60" stroke="#444" stroke-width="0.8"/>
<text x="116.30" y="255.90" font-size="6.8" text-anchor="middle" font-weight="normal" fill="#1e1e1e" stroke="#1e1e1e" stroke-width="0.18">10</text>
<line x1="148.80" y1="245.50" x2="148.80" y2="248.60" stroke="#444" stroke-width="0.8"/>
<text x="148.80" y="255.90" font-size="6.8" text-anchor="middle" font-weight="normal" fill="#1e1e1e" stroke="#1e1e1e" stroke-width="0.18">15</text>
<line x1="181.30" y1="245.50" x2="181.30" y2="248.60" stroke="#444" stroke-width="0.8"/>
<text x="181.30" y="255.90" font-size="6.8" text-anchor="middle" font-weight="normal" fill="#1e1e1e" stroke="#1e1e1e" stroke-width="0.18">20</text>
<line x1="213.80" y1="245.50" x2="213.80" y2="248.60" stroke="#444" stroke-width="0.8"/>
<text x="213.80" y="255.90" font-size="6.8" text-anchor="middle" font-weight="normal" fill="#1e1e1e" stroke="#1e1e1e" stroke-width="0.18">25</text>
<line x1="246.30" y1="245.50" x2="246.30" y2="248.60" stroke="#444" stroke-width="0.8"/>
<text x="246.30" y="255.90" font-size="6.8" text-anchor="middle" font-weight="normal" fill="#1e1e1e" stroke="#1e1e1e" stroke-width="0.18">30</text>
<text x="148.80" y="270.00" font-size="7.6" text-anchor="middle" font-weight="bold" fill="#1e1e1e"  textLength="77" lengthAdjust="spacingAndGlyphs" stroke="#1e1e1e" stroke-width="0.2">Day since Presentation</text>
<path d="M48.70,241.00 L54.30,234.40 L54.30,236.40 L48.70,243.00Z" fill="#fff"/>
<line x1="48.70" y1="241.00" x2="54.30" y2="234.40" stroke="#444" stroke-width="0.7"/>
<line x1="48.70" y1="243.00" x2="54.30" y2="236.40" stroke="#444" stroke-width="0.7"/>
<text transform="translate(14.60,209.30) rotate(-90)" x="0" y="2.74" font-size="7.6" text-anchor="middle" font-weight="bold" fill="#1e1e1e" stroke="#1e1e1e" stroke-width="0.2" textLength="50.9" lengthAdjust="spacingAndGlyphs">Red-Cell Count</text>
<text transform="translate(23.70,208.60) rotate(-90)" x="0" y="2.74" font-size="7.6" text-anchor="middle" font-weight="bold" fill="#1e1e1e" stroke="#1e1e1e" stroke-width="0.2" textLength="46" lengthAdjust="spacingAndGlyphs">(×10<tspan dy="-2.8" font-size="5">−6</tspan><tspan dy="2.8">/mm</tspan><tspan dy="-2.8" font-size="5">3</tspan><tspan dy="2.8">)</tspan></text>
<path d="M51.30,216.90 L52.79,216.89 L54.85,216.88 L57.29,216.86 L59.92,216.83 L62.55,216.77 L65.00,216.68 L67.09,216.55 L68.95,216.36 L70.81,216.16 L72.91,215.95 L75.49,215.74 L78.80,215.57 L83.12,215.42 L88.33,215.29 L94.01,215.17 L99.79,215.05 L105.25,214.94 L110.00,214.83 L113.87,214.73 L117.13,214.63 L120.08,214.54 L123.01,214.44 L126.22,214.34 L130.00,214.21 L134.42,214.06 L139.26,213.90 L144.38,213.73 L149.63,213.55 L154.88,213.36 L160.00,213.17 L164.96,212.99 L169.86,212.81 L174.76,212.62 L179.72,212.42 L184.78,212.19 L190.00,211.94 L195.80,211.62 L202.24,211.24 L208.78,210.84 L214.90,210.46 L220.08,210.13 L223.80,209.90 L223.80,213.70 L220.08,213.92 L214.90,214.24 L208.78,214.61 L202.24,214.99 L195.80,215.36 L190.00,215.66 L184.78,215.90 L179.72,216.12 L174.76,216.31 L169.86,216.48 L164.96,216.65 L160.00,216.83 L154.88,217.00 L149.63,217.18 L144.38,217.35 L139.26,217.51 L134.42,217.66 L130.00,217.79 L126.22,217.91 L123.01,218.01 L120.08,218.10 L117.13,218.18 L113.87,218.27 L110.00,218.37 L105.25,218.47 L99.79,218.57 L94.01,218.67 L88.33,218.78 L83.12,218.90 L78.80,219.03 L75.49,219.20 L72.91,219.40 L70.81,219.60 L68.95,219.81 L67.09,219.98 L65.00,220.12 L62.55,220.20 L59.92,220.25 L57.29,220.28 L54.85,220.29 L52.79,220.29 L51.30,220.30Z" fill="#bcc6ea"/>
<path d="M51.30,218.60 L52.79,218.59 L54.85,218.58 L57.29,218.57 L59.92,218.54 L62.55,218.49 L65.00,218.40 L67.09,218.26 L68.95,218.09 L70.81,217.88 L72.91,217.67 L75.49,217.47 L78.80,217.30 L83.12,217.16 L88.33,217.03 L94.01,216.92 L99.79,216.81 L105.25,216.71 L110.00,216.60 L113.87,216.50 L117.13,216.41 L120.08,216.32 L123.01,216.23 L126.22,216.12 L130.00,216.00 L134.42,215.86 L139.26,215.70 L144.38,215.54 L149.63,215.36 L154.88,215.18 L160.00,215.00 L164.96,214.82 L169.86,214.64 L174.76,214.46 L179.72,214.27 L184.78,214.05 L190.00,213.80 L195.80,213.49 L202.24,213.12 L208.78,212.73 L214.90,212.35 L220.08,212.03 L223.80,211.80" fill="none" stroke="#7c8bc8" stroke-width="1.5" stroke-linejoin="round"/>
<path d="M51.70,229.20 L56.90,221.20 L58.60,222.80 L59.80,225.20 L62.10,226.30 L65.60,229.20 L70.20,225.20 L76.50,228.60 L84.60,221.20 L86.90,226.30 L93.30,229.80 L101.30,220.00 L104.20,226.30 L107.70,223.70 L112.80,220.00 L121.10,226.00 L122.60,229.60 L125.00,225.80 L126.00,223.90 L126.20,184.20 L126.60,187.30 L127.70,195.00 L128.80,201.20 L130.30,217.30 L131.80,208.50 L132.80,211.60 L133.80,215.00 L134.60,218.80 L135.80,232.70 L136.90,228.80 L141.50,230.40" fill="none" stroke="#222" stroke-width="0.8" stroke-linejoin="round"/>
<circle cx="51.70" cy="229.20" r="1.45" fill="#111"/>
<circle cx="56.90" cy="221.20" r="1.45" fill="#111"/>
<circle cx="58.60" cy="222.80" r="1.45" fill="#111"/>
<circle cx="59.80" cy="225.20" r="1.45" fill="#111"/>
<circle cx="62.10" cy="226.30" r="1.45" fill="#111"/>
<circle cx="65.60" cy="229.20" r="1.45" fill="#111"/>
<circle cx="70.20" cy="225.20" r="1.45" fill="#111"/>
<circle cx="76.50" cy="228.60" r="1.45" fill="#111"/>
<circle cx="84.60" cy="221.20" r="1.45" fill="#111"/>
<circle cx="86.90" cy="226.30" r="1.45" fill="#111"/>
<circle cx="93.30" cy="229.80" r="1.45" fill="#111"/>
<circle cx="101.30" cy="220.00" r="1.45" fill="#111"/>
<circle cx="104.20" cy="226.30" r="1.45" fill="#111"/>
<circle cx="107.70" cy="223.70" r="1.45" fill="#111"/>
<circle cx="112.80" cy="220.00" r="1.45" fill="#111"/>
<circle cx="121.10" cy="226.00" r="1.45" fill="#111"/>
<circle cx="122.60" cy="229.60" r="1.45" fill="#111"/>
<circle cx="125.00" cy="225.80" r="1.45" fill="#111"/>
<circle cx="126.00" cy="223.90" r="1.45" fill="#111"/>
<circle cx="126.20" cy="184.20" r="1.45" fill="#111"/>
<circle cx="126.60" cy="187.30" r="1.45" fill="#111"/>
<circle cx="127.70" cy="195.00" r="1.45" fill="#111"/>
<circle cx="128.80" cy="201.20" r="1.45" fill="#111"/>
<circle cx="130.30" cy="217.30" r="1.45" fill="#111"/>
<circle cx="131.80" cy="208.50" r="1.45" fill="#111"/>
<circle cx="132.80" cy="211.60" r="1.45" fill="#111"/>
<circle cx="133.80" cy="215.00" r="1.45" fill="#111"/>
<circle cx="134.60" cy="218.80" r="1.45" fill="#111"/>
<circle cx="135.80" cy="232.70" r="1.45" fill="#111"/>
<circle cx="136.90" cy="228.80" r="1.45" fill="#111"/>
<circle cx="141.50" cy="230.40" r="1.45" fill="#111"/>
<line x1="141.50" y1="230.40" x2="145.40" y2="223.50" stroke="#d9432b" stroke-width="0.9"/>
<path d="M145.40,223.50 L146.90,228.50 L148.20,199.60 L149.70,216.50 L151.20,220.40 L154.60,223.50 L157.40,233.80 L160.80,227.60 L163.80,219.60 L166.90,221.50 L170.30,223.90 L173.10,228.80 L176.50,216.50 L180.00,221.90 L184.60,225.80 L188.50,224.50 L193.50,228.80 L195.40,225.00 L199.20,231.90 L201.20,223.90 L203.00,223.90 L206.20,227.30 L209.20,218.80 L211.50,221.50 L213.10,216.50 L214.20,219.30 L218.20,233.50 L219.20,225.80 L220.30,221.50 L225.80,220.80 L232.30,225.80 L239.20,231.90 L241.80,218.80 L245.80,219.30" fill="none" stroke="#222" stroke-width="0.8" stroke-linejoin="round"/>
<circle cx="145.40" cy="223.50" r="1.45" fill="#111"/>
<circle cx="146.90" cy="228.50" r="1.45" fill="#111"/>
<circle cx="148.20" cy="199.60" r="1.45" fill="#111"/>
<circle cx="149.70" cy="216.50" r="1.45" fill="#111"/>
<circle cx="151.20" cy="220.40" r="1.45" fill="#111"/>
<circle cx="154.60" cy="223.50" r="1.45" fill="#111"/>
<circle cx="157.40" cy="233.80" r="1.45" fill="#111"/>
<circle cx="160.80" cy="227.60" r="1.45" fill="#111"/>
<circle cx="163.80" cy="219.60" r="1.45" fill="#111"/>
<circle cx="166.90" cy="221.50" r="1.45" fill="#111"/>
<circle cx="170.30" cy="223.90" r="1.45" fill="#111"/>
<circle cx="173.10" cy="228.80" r="1.45" fill="#111"/>
<circle cx="176.50" cy="216.50" r="1.45" fill="#111"/>
<circle cx="180.00" cy="221.90" r="1.45" fill="#111"/>
<circle cx="184.60" cy="225.80" r="1.45" fill="#111"/>
<circle cx="188.50" cy="224.50" r="1.45" fill="#111"/>
<circle cx="193.50" cy="228.80" r="1.45" fill="#111"/>
<circle cx="195.40" cy="225.00" r="1.45" fill="#111"/>
<circle cx="199.20" cy="231.90" r="1.45" fill="#111"/>
<circle cx="201.20" cy="223.90" r="1.45" fill="#111"/>
<circle cx="203.00" cy="223.90" r="1.45" fill="#111"/>
<circle cx="206.20" cy="227.30" r="1.45" fill="#111"/>
<circle cx="209.20" cy="218.80" r="1.45" fill="#111"/>
<circle cx="211.50" cy="221.50" r="1.45" fill="#111"/>
<circle cx="213.10" cy="216.50" r="1.45" fill="#111"/>
<circle cx="214.20" cy="219.30" r="1.45" fill="#111"/>
<circle cx="218.20" cy="233.50" r="1.45" fill="#111"/>
<circle cx="219.20" cy="225.80" r="1.45" fill="#111"/>
<circle cx="220.30" cy="221.50" r="1.45" fill="#111"/>
<circle cx="225.80" cy="220.80" r="1.45" fill="#111"/>
<circle cx="232.30" cy="225.80" r="1.45" fill="#111"/>
<circle cx="239.20" cy="231.90" r="1.45" fill="#111"/>
<circle cx="241.80" cy="218.80" r="1.45" fill="#111"/>
<circle cx="245.80" cy="219.30" r="1.45" fill="#111"/>
<line x1="122.30" y1="206.80" x2="122.30" y2="210.80" stroke="#1e7a52" stroke-width="0.9"/>
<path d="M120.85,210.40 L123.75,210.40 L122.30,212.80Z" fill="#1e7a52"/>
<line x1="142.30" y1="206.80" x2="142.30" y2="210.80" stroke="#d9432b" stroke-width="0.9"/>
<path d="M140.85,210.40 L143.75,210.40 L142.30,212.80Z" fill="#d9432b"/>
<text x="263.80" y="165.00" font-size="9.2" text-anchor="start" font-weight="bold" fill="#1e1e1e"  stroke="#1e1e1e" stroke-width="0.2">D</text>
<text x="276.20" y="165.00" font-size="8.0" text-anchor="start" font-weight="bold" fill="#1e1e1e"  textLength="37.6" lengthAdjust="spacingAndGlyphs" stroke="#1e1e1e" stroke-width="0.2">White Cells</text>
<line x1="310.50" y1="174.25" x2="310.50" y2="246.50" stroke="#444" stroke-width="0.9"/>
<line x1="307.30" y1="246.50" x2="310.50" y2="246.50" stroke="#444" stroke-width="0.8"/>
<text x="306.70" y="248.85" font-size="6.8" text-anchor="end" font-weight="normal" fill="#1e1e1e" stroke="#1e1e1e" stroke-width="0.18">0</text>
<line x1="307.30" y1="231.65" x2="310.50" y2="231.65" stroke="#444" stroke-width="0.8"/>
<text x="306.70" y="234.00" font-size="6.8" text-anchor="end" font-weight="normal" fill="#1e1e1e" stroke="#1e1e1e" stroke-width="0.18">5</text>
<line x1="307.30" y1="217.30" x2="310.50" y2="217.30" stroke="#444" stroke-width="0.8"/>
<text x="306.70" y="219.65" font-size="6.8" text-anchor="end" font-weight="normal" fill="#1e1e1e" stroke="#1e1e1e" stroke-width="0.18">10</text>
<line x1="307.30" y1="202.95" x2="310.50" y2="202.95" stroke="#444" stroke-width="0.8"/>
<text x="306.70" y="205.30" font-size="6.8" text-anchor="end" font-weight="normal" fill="#1e1e1e" stroke="#1e1e1e" stroke-width="0.18">15</text>
<line x1="307.30" y1="188.60" x2="310.50" y2="188.60" stroke="#444" stroke-width="0.8"/>
<text x="306.70" y="190.95" font-size="6.8" text-anchor="end" font-weight="normal" fill="#1e1e1e" stroke="#1e1e1e" stroke-width="0.18">20</text>
<line x1="307.30" y1="174.25" x2="310.50" y2="174.25" stroke="#444" stroke-width="0.8"/>
<text x="306.70" y="176.60" font-size="6.8" text-anchor="end" font-weight="normal" fill="#1e1e1e" stroke="#1e1e1e" stroke-width="0.18">25</text>
<line x1="307.30" y1="246.50" x2="505.50" y2="246.50" stroke="#444" stroke-width="0.9"/>
<line x1="310.50" y1="246.50" x2="310.50" y2="249.60" stroke="#444" stroke-width="0.8"/>
<text x="310.50" y="256.90" font-size="6.8" text-anchor="middle" font-weight="normal" fill="#1e1e1e" stroke="#1e1e1e" stroke-width="0.18">0</text>
<line x1="343.00" y1="246.50" x2="343.00" y2="249.60" stroke="#444" stroke-width="0.8"/>
<text x="343.00" y="256.90" font-size="6.8" text-anchor="middle" font-weight="normal" fill="#1e1e1e" stroke="#1e1e1e" stroke-width="0.18">5</text>
<line x1="375.50" y1="246.50" x2="375.50" y2="249.60" stroke="#444" stroke-width="0.8"/>
<text x="375.50" y="256.90" font-size="6.8" text-anchor="middle" font-weight="normal" fill="#1e1e1e" stroke="#1e1e1e" stroke-width="0.18">10</text>
<line x1="408.00" y1="246.50" x2="408.00" y2="249.60" stroke="#444" stroke-width="0.8"/>
<text x="408.00" y="256.90" font-size="6.8" text-anchor="middle" font-weight="normal" fill="#1e1e1e" stroke="#1e1e1e" stroke-width="0.18">15</text>
<line x1="440.50" y1="246.50" x2="440.50" y2="249.60" stroke="#444" stroke-width="0.8"/>
<text x="440.50" y="256.90" font-size="6.8" text-anchor="middle" font-weight="normal" fill="#1e1e1e" stroke="#1e1e1e" stroke-width="0.18">20</text>
<line x1="473.00" y1="246.50" x2="473.00" y2="249.60" stroke="#444" stroke-width="0.8"/>
<text x="473.00" y="256.90" font-size="6.8" text-anchor="middle" font-weight="normal" fill="#1e1e1e" stroke="#1e1e1e" stroke-width="0.18">25</text>
<line x1="505.50" y1="246.50" x2="505.50" y2="249.60" stroke="#444" stroke-width="0.8"/>
<text x="505.50" y="256.90" font-size="6.8" text-anchor="middle" font-weight="normal" fill="#1e1e1e" stroke="#1e1e1e" stroke-width="0.18">30</text>
<text x="408.00" y="270.60" font-size="7.6" text-anchor="middle" font-weight="bold" fill="#1e1e1e"  textLength="77" lengthAdjust="spacingAndGlyphs" stroke="#1e1e1e" stroke-width="0.2">Day since Presentation</text>
<text transform="translate(275.00,209.10) rotate(-90)" x="0" y="2.74" font-size="7.6" text-anchor="middle" font-weight="bold" fill="#1e1e1e" stroke="#1e1e1e" stroke-width="0.2" textLength="58.2" lengthAdjust="spacingAndGlyphs">White-Cell Count</text>
<text transform="translate(284.30,208.00) rotate(-90)" x="0" y="2.74" font-size="7.6" text-anchor="middle" font-weight="bold" fill="#1e1e1e" stroke="#1e1e1e" stroke-width="0.2" textLength="46" lengthAdjust="spacingAndGlyphs">(×10<tspan dy="-2.8" font-size="5">−3</tspan><tspan dy="2.8">/mm</tspan><tspan dy="-2.8" font-size="5">3</tspan><tspan dy="2.8">)</tspan></text>
<path d="M310.80,211.30 L311.07,212.04 L311.41,213.22 L311.83,214.54 L312.34,215.71 L312.96,216.42 L313.70,216.38 L314.59,215.49 L315.62,213.94 L316.76,211.95 L317.96,209.83 L319.19,207.86 L320.40,206.36 L321.61,205.26 L322.86,204.32 L324.13,203.54 L325.42,202.91 L326.71,202.45 L328.00,202.20 L329.18,202.20 L330.24,202.45 L331.30,202.86 L332.50,203.34 L333.95,203.79 L335.80,204.13 L338.10,204.35 L340.76,204.55 L343.68,204.71 L346.76,204.87 L349.90,205.02 L353.00,205.18 L356.16,205.38 L359.49,205.61 L362.88,205.86 L366.22,206.07 L369.39,206.20 L372.30,206.21 L374.94,206.07 L377.39,205.80 L379.68,205.45 L381.83,205.08 L383.87,204.72 L385.80,204.43 L387.52,204.17 L388.99,203.89 L390.34,203.62 L391.71,203.42 L393.22,203.33 L395.00,203.38 L397.10,203.63 L399.41,204.07 L401.87,204.61 L404.41,205.20 L406.94,205.77 L409.40,206.24 L411.72,206.61 L413.95,206.92 L416.17,207.21 L418.50,207.51 L421.01,207.83 L423.80,208.20 L426.95,208.60 L430.41,209.06 L434.05,209.54 L437.77,210.01 L441.46,210.45 L445.00,210.83 L448.43,211.15 L451.84,211.46 L455.22,211.79 L458.55,212.09 L461.81,212.39 L465.00,212.70 L468.29,213.03 L471.73,213.38 L475.10,213.72 L478.20,214.04 L480.80,214.31 L482.70,214.50 L482.70,222.10 L480.80,221.91 L478.20,221.64 L475.10,221.33 L471.73,220.98 L468.29,220.63 L465.00,220.30 L461.81,219.99 L458.55,219.69 L455.22,219.39 L451.84,219.06 L448.43,218.66 L445.00,218.17 L441.46,217.59 L437.77,216.95 L434.05,216.28 L430.41,215.60 L426.95,214.96 L423.80,214.40 L421.01,213.97 L418.50,213.60 L416.17,213.26 L413.95,212.93 L411.72,212.57 L409.40,212.16 L406.94,211.64 L404.41,211.03 L401.87,210.39 L399.41,209.79 L397.10,209.31 L395.00,209.02 L393.22,208.94 L391.71,209.05 L390.34,209.27 L388.99,209.56 L387.52,209.87 L385.80,210.17 L383.87,210.49 L381.83,210.88 L379.68,211.30 L377.39,211.69 L374.94,212.00 L372.30,212.19 L369.39,212.23 L366.22,212.15 L362.88,212.01 L359.49,211.81 L356.16,211.60 L353.00,211.42 L349.90,211.28 L346.76,211.15 L343.68,211.01 L340.76,210.86 L338.10,210.69 L335.80,210.47 L333.95,210.15 L332.50,209.71 L331.30,209.24 L330.24,208.83 L329.18,208.59 L328.00,208.60 L326.71,208.82 L325.42,209.14 L324.13,209.63 L322.86,210.27 L321.61,211.07 L320.40,212.04 L319.19,213.42 L317.96,215.25 L316.76,217.25 L315.62,219.11 L314.59,220.56 L313.70,221.23 L312.96,220.90 L312.34,219.88 L311.83,218.46 L311.41,216.93 L311.07,215.58 L310.80,214.70Z" fill="#c8d0e8"/>
<path d="M310.80,213.00 L311.07,213.81 L311.41,215.07 L311.83,216.50 L312.34,217.79 L312.96,218.66 L313.70,218.80 L314.59,218.02 L315.62,216.53 L316.76,214.60 L317.96,212.54 L319.19,210.64 L320.40,209.20 L321.61,208.17 L322.86,207.29 L324.13,206.58 L325.42,206.03 L326.71,205.64 L328.00,205.40 L329.18,205.40 L330.24,205.64 L331.30,206.05 L332.50,206.52 L333.95,206.97 L335.80,207.30 L338.10,207.52 L340.76,207.70 L343.68,207.86 L346.76,208.01 L349.90,208.15 L353.00,208.30 L356.16,208.49 L359.49,208.71 L362.88,208.93 L366.22,209.11 L369.39,209.21 L372.30,209.20 L374.94,209.04 L377.39,208.74 L379.68,208.38 L381.83,207.98 L383.87,207.60 L385.80,207.30 L387.52,207.02 L388.99,206.72 L390.34,206.44 L391.71,206.23 L393.22,206.14 L395.00,206.20 L397.10,206.47 L399.41,206.93 L401.87,207.50 L404.41,208.11 L406.94,208.70 L409.40,209.20 L411.72,209.59 L413.95,209.93 L416.17,210.24 L418.50,210.55 L421.01,210.90 L423.80,211.30 L426.95,211.78 L430.41,212.33 L434.05,212.91 L437.77,213.48 L441.46,214.02 L445.00,214.50 L448.43,214.91 L451.84,215.26 L455.22,215.59 L458.55,215.89 L461.81,216.19 L465.00,216.50 L468.29,216.83 L471.73,217.18 L475.10,217.53 L478.20,217.84 L480.80,218.11 L482.70,218.30" fill="none" stroke="#55659c" stroke-width="1.1" stroke-linejoin="round"/>
<path d="M310.75,208.00 L312.00,211.25 L315.00,223.75 L316.25,222.00 L318.75,217.00 L321.25,218.00 L325.00,218.75 L329.50,218.00 L336.25,212.00 L344.50,214.50 L352.50,223.25 L361.25,212.00 L363.75,208.00 L365.50,211.25 L372.00,203.00 L380.30,209.60 L381.90,205.40 L384.60,184.40 L384.80,190.80 L385.70,203.80 L386.70,205.40 L388.30,204.00 L389.90,212.30 L391.50,215.50 L393.70,211.80 L392.90,216.00 L395.00,218.70 L396.30,223.00 L399.70,208.60 L404.30,217.10 L406.40,200.00 L407.50,199.00 L408.90,212.30 L411.20,210.70 L413.20,211.20 L416.60,219.20 L419.80,219.20 L423.10,213.80 L426.20,211.80 L429.70,201.50 L432.80,206.60 L435.80,202.00 L439.20,210.80 L440.00,207.70 L444.60,205.70 L446.60,204.00 L448.70,205.70 L452.60,209.70 L455.30,207.00 L458.80,208.40 L462.30,211.50 L465.80,207.50 L468.80,211.00 L471.00,213.90 L472.80,194.00 L474.00,190.00 L477.50,205.70 L478.70,211.00 L480.40,214.50 L485.30,220.90 L491.40,228.40 L498.40,231.40 L501.00,231.00 L504.90,229.30" fill="none" stroke="#222" stroke-width="0.8" stroke-linejoin="round"/>
<circle cx="310.75" cy="208.00" r="1.45" fill="#111"/>
<circle cx="312.00" cy="211.25" r="1.45" fill="#111"/>
<circle cx="315.00" cy="223.75" r="1.45" fill="#111"/>
<circle cx="316.25" cy="222.00" r="1.45" fill="#111"/>
<circle cx="318.75" cy="217.00" r="1.45" fill="#111"/>
<circle cx="321.25" cy="218.00" r="1.45" fill="#111"/>
<circle cx="325.00" cy="218.75" r="1.45" fill="#111"/>
<circle cx="329.50" cy="218.00" r="1.45" fill="#111"/>
<circle cx="336.25" cy="212.00" r="1.45" fill="#111"/>
<circle cx="344.50" cy="214.50" r="1.45" fill="#111"/>
<circle cx="352.50" cy="223.25" r="1.45" fill="#111"/>
<circle cx="361.25" cy="212.00" r="1.45" fill="#111"/>
<circle cx="363.75" cy="208.00" r="1.45" fill="#111"/>
<circle cx="365.50" cy="211.25" r="1.45" fill="#111"/>
<circle cx="372.00" cy="203.00" r="1.45" fill="#111"/>
<circle cx="380.30" cy="209.60" r="1.45" fill="#111"/>
<circle cx="381.90" cy="205.40" r="1.45" fill="#111"/>
<circle cx="384.60" cy="184.40" r="1.45" fill="#111"/>
<circle cx="384.80" cy="190.80" r="1.45" fill="#111"/>
<circle cx="385.70" cy="203.80" r="1.45" fill="#111"/>
<circle cx="386.70" cy="205.40" r="1.45" fill="#111"/>
<circle cx="388.30" cy="204.00" r="1.45" fill="#111"/>
<circle cx="389.90" cy="212.30" r="1.45" fill="#111"/>
<circle cx="391.50" cy="215.50" r="1.45" fill="#111"/>
<circle cx="393.70" cy="211.80" r="1.45" fill="#111"/>
<circle cx="392.90" cy="216.00" r="1.45" fill="#111"/>
<circle cx="395.00" cy="218.70" r="1.45" fill="#111"/>
<circle cx="396.30" cy="223.00" r="1.45" fill="#111"/>
<circle cx="399.70" cy="208.60" r="1.45" fill="#111"/>
<circle cx="404.30" cy="217.10" r="1.45" fill="#111"/>
<circle cx="406.40" cy="200.00" r="1.45" fill="#111"/>
<circle cx="407.50" cy="199.00" r="1.45" fill="#111"/>
<circle cx="408.90" cy="212.30" r="1.45" fill="#111"/>
<circle cx="411.20" cy="210.70" r="1.45" fill="#111"/>
<circle cx="413.20" cy="211.20" r="1.45" fill="#111"/>
<circle cx="416.60" cy="219.20" r="1.45" fill="#111"/>
<circle cx="419.80" cy="219.20" r="1.45" fill="#111"/>
<circle cx="423.10" cy="213.80" r="1.45" fill="#111"/>
<circle cx="426.20" cy="211.80" r="1.45" fill="#111"/>
<circle cx="429.70" cy="201.50" r="1.45" fill="#111"/>
<circle cx="432.80" cy="206.60" r="1.45" fill="#111"/>
<circle cx="435.80" cy="202.00" r="1.45" fill="#111"/>
<circle cx="439.20" cy="210.80" r="1.45" fill="#111"/>
<circle cx="440.00" cy="207.70" r="1.45" fill="#111"/>
<circle cx="444.60" cy="205.70" r="1.45" fill="#111"/>
<circle cx="446.60" cy="204.00" r="1.45" fill="#111"/>
<circle cx="448.70" cy="205.70" r="1.45" fill="#111"/>
<circle cx="452.60" cy="209.70" r="1.45" fill="#111"/>
<circle cx="455.30" cy="207.00" r="1.45" fill="#111"/>
<circle cx="458.80" cy="208.40" r="1.45" fill="#111"/>
<circle cx="462.30" cy="211.50" r="1.45" fill="#111"/>
<circle cx="465.80" cy="207.50" r="1.45" fill="#111"/>
<circle cx="468.80" cy="211.00" r="1.45" fill="#111"/>
<circle cx="471.00" cy="213.90" r="1.45" fill="#111"/>
<circle cx="472.80" cy="194.00" r="1.45" fill="#111"/>
<circle cx="474.00" cy="190.00" r="1.45" fill="#111"/>
<circle cx="477.50" cy="205.70" r="1.45" fill="#111"/>
<circle cx="478.70" cy="211.00" r="1.45" fill="#111"/>
<circle cx="480.40" cy="214.50" r="1.45" fill="#111"/>
<circle cx="485.30" cy="220.90" r="1.45" fill="#111"/>
<circle cx="491.40" cy="228.40" r="1.45" fill="#111"/>
<circle cx="498.40" cy="231.40" r="1.45" fill="#111"/>
<circle cx="501.00" cy="231.00" r="1.45" fill="#111"/>
<circle cx="504.90" cy="229.30" r="1.45" fill="#111"/>
<line x1="381.50" y1="193.00" x2="381.50" y2="198.00" stroke="#1e7a52" stroke-width="0.9"/>
<path d="M380.05,197.60 L382.95,197.60 L381.50,200.00Z" fill="#1e7a52"/>
<line x1="402.00" y1="199.50" x2="402.00" y2="205.00" stroke="#d9432b" stroke-width="0.9"/>
<path d="M400.55,204.60 L403.45,204.60 L402.00,207.00Z" fill="#d9432b"/>
<line x1="400.80" y1="210.50" x2="403.40" y2="215.70" stroke="#d9432b" stroke-width="0.9"/>
<text x="5.60" y="293.60" font-size="9.2" text-anchor="start" font-weight="bold" fill="#1e1e1e"  stroke="#1e1e1e" stroke-width="0.2">E</text>
<text x="17.70" y="293.60" font-size="8.0" text-anchor="start" font-weight="bold" fill="#1e1e1e"  textLength="78.3" lengthAdjust="spacingAndGlyphs" stroke="#1e1e1e" stroke-width="0.2">Lactate Dehydrogenase</text>
<line x1="51.50" y1="302.95" x2="51.50" y2="374.50" stroke="#444" stroke-width="0.9"/>
<line x1="48.30" y1="374.50" x2="51.50" y2="374.50" stroke="#444" stroke-width="0.8"/>
<text x="47.70" y="376.85" font-size="6.8" text-anchor="end" font-weight="normal" fill="#1e1e1e" stroke="#1e1e1e" stroke-width="0.18">0</text>
<line x1="48.30" y1="360.19" x2="51.50" y2="360.19" stroke="#444" stroke-width="0.8"/>
<text x="47.70" y="362.54" font-size="6.8" text-anchor="end" font-weight="normal" fill="#1e1e1e" stroke="#1e1e1e" stroke-width="0.18">500</text>
<line x1="48.30" y1="345.88" x2="51.50" y2="345.88" stroke="#444" stroke-width="0.8"/>
<text x="47.70" y="348.23" font-size="6.8" text-anchor="end" font-weight="normal" fill="#1e1e1e" stroke="#1e1e1e" stroke-width="0.18">1000</text>
<line x1="48.30" y1="331.57" x2="51.50" y2="331.57" stroke="#444" stroke-width="0.8"/>
<text x="47.70" y="333.92" font-size="6.8" text-anchor="end" font-weight="normal" fill="#1e1e1e" stroke="#1e1e1e" stroke-width="0.18">1500</text>
<line x1="48.30" y1="317.26" x2="51.50" y2="317.26" stroke="#444" stroke-width="0.8"/>
<text x="47.70" y="319.61" font-size="6.8" text-anchor="end" font-weight="normal" fill="#1e1e1e" stroke="#1e1e1e" stroke-width="0.18">2000</text>
<line x1="48.30" y1="302.95" x2="51.50" y2="302.95" stroke="#444" stroke-width="0.8"/>
<text x="47.70" y="305.30" font-size="6.8" text-anchor="end" font-weight="normal" fill="#1e1e1e" stroke="#1e1e1e" stroke-width="0.18">2500</text>
<line x1="48.30" y1="374.50" x2="246.75" y2="374.50" stroke="#444" stroke-width="0.9"/>
<line x1="51.75" y1="374.50" x2="51.75" y2="377.60" stroke="#444" stroke-width="0.8"/>
<text x="51.75" y="384.90" font-size="6.8" text-anchor="middle" font-weight="normal" fill="#1e1e1e" stroke="#1e1e1e" stroke-width="0.18">0</text>
<line x1="84.25" y1="374.50" x2="84.25" y2="377.60" stroke="#444" stroke-width="0.8"/>
<text x="84.25" y="384.90" font-size="6.8" text-anchor="middle" font-weight="normal" fill="#1e1e1e" stroke="#1e1e1e" stroke-width="0.18">5</text>
<line x1="116.75" y1="374.50" x2="116.75" y2="377.60" stroke="#444" stroke-width="0.8"/>
<text x="116.75" y="384.90" font-size="6.8" text-anchor="middle" font-weight="normal" fill="#1e1e1e" stroke="#1e1e1e" stroke-width="0.18">10</text>
<line x1="149.25" y1="374.50" x2="149.25" y2="377.60" stroke="#444" stroke-width="0.8"/>
<text x="149.25" y="384.90" font-size="6.8" text-anchor="middle" font-weight="normal" fill="#1e1e1e" stroke="#1e1e1e" stroke-width="0.18">15</text>
<line x1="181.75" y1="374.50" x2="181.75" y2="377.60" stroke="#444" stroke-width="0.8"/>
<text x="181.75" y="384.90" font-size="6.8" text-anchor="middle" font-weight="normal" fill="#1e1e1e" stroke="#1e1e1e" stroke-width="0.18">20</text>
<line x1="214.25" y1="374.50" x2="214.25" y2="377.60" stroke="#444" stroke-width="0.8"/>
<text x="214.25" y="384.90" font-size="6.8" text-anchor="middle" font-weight="normal" fill="#1e1e1e" stroke="#1e1e1e" stroke-width="0.18">25</text>
<line x1="246.75" y1="374.50" x2="246.75" y2="377.60" stroke="#444" stroke-width="0.8"/>
<text x="246.75" y="384.90" font-size="6.8" text-anchor="middle" font-weight="normal" fill="#1e1e1e" stroke="#1e1e1e" stroke-width="0.18">30</text>
<text x="149.25" y="399.10" font-size="7.6" text-anchor="middle" font-weight="bold" fill="#1e1e1e"  textLength="77" lengthAdjust="spacingAndGlyphs" stroke="#1e1e1e" stroke-width="0.2">Day since Presentation</text>
<text transform="translate(14.80,337.60) rotate(-90)" x="0" y="2.74" font-size="7.6" text-anchor="middle" font-weight="bold" fill="#1e1e1e" stroke="#1e1e1e" stroke-width="0.2" textLength="79.5" lengthAdjust="spacingAndGlyphs">Lactate Dehydrogenase</text>
<text transform="translate(24.50,338.50) rotate(-90)" x="0" y="2.74" font-size="7.6" text-anchor="middle" font-weight="bold" fill="#1e1e1e" stroke="#1e1e1e" stroke-width="0.2" textLength="28.5" lengthAdjust="spacingAndGlyphs">(U/liter)</text>
<path d="M51.75,334.50 L51.98,335.10 L52.29,335.92 L52.66,336.90 L53.07,337.97 L53.53,339.07 L54.00,340.14 L54.51,341.19 L55.06,342.27 L55.64,343.39 L56.25,344.53 L56.87,345.69 L57.50,346.85 L58.14,348.07 L58.81,349.38 L59.50,350.71 L60.19,351.97 L60.86,353.11 L61.50,354.06 L62.06,354.78 L62.54,355.31 L63.00,355.71 L63.52,356.07 L64.16,356.44 L65.00,356.90 L66.03,357.46 L67.19,358.07 L68.47,358.69 L69.87,359.29 L71.38,359.85 L73.00,360.32 L74.62,360.69 L76.22,360.97 L77.94,361.20 L79.89,361.40 L82.20,361.58 L85.00,361.78 L88.47,361.98 L92.56,362.16 L97.00,362.33 L101.56,362.48 L105.97,362.60 L110.00,362.74 L113.66,362.90 L117.15,363.06 L120.50,363.24 L123.74,363.42 L126.90,363.62 L130.00,363.82 L132.49,364.04 L134.23,364.26 L135.89,364.50 L138.13,364.74 L141.61,365.00 L147.00,365.26 L155.42,365.49 L166.57,365.68 L178.96,365.87 L191.12,366.05 L201.56,366.19 L208.80,366.30 L208.80,369.10 L201.56,369.02 L191.12,368.91 L178.96,368.78 L166.57,368.63 L155.42,368.47 L147.00,368.34 L141.61,368.23 L138.13,368.07 L135.89,367.89 L134.23,367.70 L132.49,367.53 L130.00,367.38 L126.90,367.26 L123.74,367.16 L120.50,367.06 L117.15,366.98 L113.66,366.91 L110.00,366.86 L105.97,366.83 L101.56,366.84 L97.00,366.90 L92.56,366.98 L88.47,367.03 L85.00,367.02 L82.20,366.98 L79.89,366.92 L77.94,366.84 L76.22,366.71 L74.62,366.52 L73.00,366.28 L71.38,365.94 L69.87,365.51 L68.47,365.01 L67.19,364.49 L66.03,363.98 L65.00,363.50 L64.16,363.11 L63.52,362.79 L63.00,362.47 L62.54,362.10 L62.06,361.61 L61.50,360.94 L60.86,360.04 L60.19,358.96 L59.50,357.77 L58.81,356.53 L58.14,355.30 L57.50,354.15 L56.87,353.07 L56.25,351.99 L55.64,350.92 L55.06,349.87 L54.51,348.85 L54.00,347.86 L53.53,346.85 L53.07,345.81 L52.66,344.79 L52.29,343.86 L51.98,343.07 L51.75,342.50Z" fill="#c8d0e8"/>
<path d="M51.75,338.50 L51.98,339.09 L52.29,339.89 L52.66,340.84 L53.07,341.89 L53.53,342.96 L54.00,344.00 L54.51,345.02 L55.06,346.07 L55.64,347.16 L56.25,348.26 L56.87,349.38 L57.50,350.50 L58.14,351.69 L58.81,352.96 L59.50,354.24 L60.19,355.47 L60.86,356.58 L61.50,357.50 L62.06,358.19 L62.54,358.70 L63.00,359.09 L63.52,359.43 L64.16,359.78 L65.00,360.20 L66.03,360.72 L67.19,361.28 L68.47,361.85 L69.87,362.40 L71.38,362.89 L73.00,363.30 L74.62,363.61 L76.22,363.84 L77.94,364.02 L79.89,364.16 L82.20,364.28 L85.00,364.40 L88.47,364.50 L92.56,364.57 L97.00,364.62 L101.56,364.66 L105.97,364.72 L110.00,364.80 L113.66,364.91 L117.15,365.02 L120.50,365.15 L123.74,365.29 L126.90,365.44 L130.00,365.60 L132.49,365.78 L134.23,365.98 L135.89,366.19 L138.13,366.41 L141.61,366.61 L147.00,366.80 L155.42,366.98 L166.57,367.16 L178.96,367.33 L191.12,367.48 L201.56,367.61 L208.80,367.70" fill="none" stroke="#6878b6" stroke-width="1.1" stroke-linejoin="round"/>
<path d="M52.50,314.50 L70.00,338.00 L76.25,344.25 L82.00,352.00 L88.00,355.50 L94.50,346.25 L126.40,326.20 L133.80,316.90 L134.50,310.50 L147.00,342.40 L154.30,350.20 L160.40,359.60 L167.10,358.80 L173.30,358.00 L179.80,358.80 L186.00,359.60 L192.70,362.30 L200.20,364.20 L206.20,364.20 L211.50,365.80 L218.30,367.70 L226.40,365.50 L232.50,366.90 L238.50,367.70 L245.20,366.90" fill="none" stroke="#222" stroke-width="0.8" stroke-linejoin="round"/>
<circle cx="52.50" cy="314.50" r="1.45" fill="#111"/>
<circle cx="70.00" cy="338.00" r="1.45" fill="#111"/>
<circle cx="76.25" cy="344.25" r="1.45" fill="#111"/>
<circle cx="82.00" cy="352.00" r="1.45" fill="#111"/>
<circle cx="88.00" cy="355.50" r="1.45" fill="#111"/>
<circle cx="94.50" cy="346.25" r="1.45" fill="#111"/>
<circle cx="126.40" cy="326.20" r="1.45" fill="#111"/>
<circle cx="133.80" cy="316.90" r="1.45" fill="#111"/>
<circle cx="134.50" cy="310.50" r="1.45" fill="#111"/>
<circle cx="147.00" cy="342.40" r="1.45" fill="#111"/>
<circle cx="154.30" cy="350.20" r="1.45" fill="#111"/>
<circle cx="160.40" cy="359.60" r="1.45" fill="#111"/>
<circle cx="167.10" cy="358.80" r="1.45" fill="#111"/>
<circle cx="173.30" cy="358.00" r="1.45" fill="#111"/>
<circle cx="179.80" cy="358.80" r="1.45" fill="#111"/>
<circle cx="186.00" cy="359.60" r="1.45" fill="#111"/>
<circle cx="192.70" cy="362.30" r="1.45" fill="#111"/>
<circle cx="200.20" cy="364.20" r="1.45" fill="#111"/>
<circle cx="206.20" cy="364.20" r="1.45" fill="#111"/>
<circle cx="211.50" cy="365.80" r="1.45" fill="#111"/>
<circle cx="218.30" cy="367.70" r="1.45" fill="#111"/>
<circle cx="226.40" cy="365.50" r="1.45" fill="#111"/>
<circle cx="232.50" cy="366.90" r="1.45" fill="#111"/>
<circle cx="238.50" cy="367.70" r="1.45" fill="#111"/>
<circle cx="245.20" cy="366.90" r="1.45" fill="#111"/>
<line x1="141.60" y1="325.00" x2="143.00" y2="335.50" stroke="#d9432b" stroke-width="1.0"/>
<line x1="122.20" y1="317.20" x2="122.20" y2="321.40" stroke="#1e7a52" stroke-width="0.9"/>
<path d="M120.75,321.00 L123.65,321.00 L122.20,323.40Z" fill="#1e7a52"/>
<line x1="142.30" y1="312.60" x2="142.30" y2="317.20" stroke="#d9432b" stroke-width="0.9"/>
<path d="M140.85,316.80 L143.75,316.80 L142.30,319.20Z" fill="#d9432b"/>
<text x="264.80" y="294.00" font-size="9.2" text-anchor="start" font-weight="bold" fill="#1e1e1e"  stroke="#1e1e1e" stroke-width="0.2">F</text>
<text x="276.20" y="294.00" font-size="8.0" text-anchor="start" font-weight="bold" fill="#1e1e1e"  textLength="41" lengthAdjust="spacingAndGlyphs" stroke="#1e1e1e" stroke-width="0.2">Schistocytes</text>
<line x1="310.50" y1="302.50" x2="310.50" y2="374.50" stroke="#444" stroke-width="0.9"/>
<line x1="307.30" y1="374.50" x2="310.50" y2="374.50" stroke="#444" stroke-width="0.8"/>
<text x="306.70" y="376.85" font-size="6.8" text-anchor="end" font-weight="normal" fill="#1e1e1e" stroke="#1e1e1e" stroke-width="0.18">0</text>
<line x1="307.30" y1="356.50" x2="310.50" y2="356.50" stroke="#444" stroke-width="0.8"/>
<text x="306.70" y="358.85" font-size="6.8" text-anchor="end" font-weight="normal" fill="#1e1e1e" stroke="#1e1e1e" stroke-width="0.18">5</text>
<line x1="307.30" y1="338.50" x2="310.50" y2="338.50" stroke="#444" stroke-width="0.8"/>
<text x="306.70" y="340.85" font-size="6.8" text-anchor="end" font-weight="normal" fill="#1e1e1e" stroke="#1e1e1e" stroke-width="0.18">10</text>
<line x1="307.30" y1="320.50" x2="310.50" y2="320.50" stroke="#444" stroke-width="0.8"/>
<text x="306.70" y="322.85" font-size="6.8" text-anchor="end" font-weight="normal" fill="#1e1e1e" stroke="#1e1e1e" stroke-width="0.18">15</text>
<line x1="307.30" y1="302.50" x2="310.50" y2="302.50" stroke="#444" stroke-width="0.8"/>
<text x="306.70" y="304.85" font-size="6.8" text-anchor="end" font-weight="normal" fill="#1e1e1e" stroke="#1e1e1e" stroke-width="0.18">20</text>
<line x1="307.30" y1="374.50" x2="505.50" y2="374.50" stroke="#444" stroke-width="0.9"/>
<line x1="310.50" y1="374.50" x2="310.50" y2="377.60" stroke="#444" stroke-width="0.8"/>
<text x="310.50" y="384.90" font-size="6.8" text-anchor="middle" font-weight="normal" fill="#1e1e1e" stroke="#1e1e1e" stroke-width="0.18">0</text>
<line x1="343.00" y1="374.50" x2="343.00" y2="377.60" stroke="#444" stroke-width="0.8"/>
<text x="343.00" y="384.90" font-size="6.8" text-anchor="middle" font-weight="normal" fill="#1e1e1e" stroke="#1e1e1e" stroke-width="0.18">5</text>
<line x1="375.50" y1="374.50" x2="375.50" y2="377.60" stroke="#444" stroke-width="0.8"/>
<text x="375.50" y="384.90" font-size="6.8" text-anchor="middle" font-weight="normal" fill="#1e1e1e" stroke="#1e1e1e" stroke-width="0.18">10</text>
<line x1="408.00" y1="374.50" x2="408.00" y2="377.60" stroke="#444" stroke-width="0.8"/>
<text x="408.00" y="384.90" font-size="6.8" text-anchor="middle" font-weight="normal" fill="#1e1e1e" stroke="#1e1e1e" stroke-width="0.18">15</text>
<line x1="440.50" y1="374.50" x2="440.50" y2="377.60" stroke="#444" stroke-width="0.8"/>
<text x="440.50" y="384.90" font-size="6.8" text-anchor="middle" font-weight="normal" fill="#1e1e1e" stroke="#1e1e1e" stroke-width="0.18">20</text>
<line x1="473.00" y1="374.50" x2="473.00" y2="377.60" stroke="#444" stroke-width="0.8"/>
<text x="473.00" y="384.90" font-size="6.8" text-anchor="middle" font-weight="normal" fill="#1e1e1e" stroke="#1e1e1e" stroke-width="0.18">25</text>
<line x1="505.50" y1="374.50" x2="505.50" y2="377.60" stroke="#444" stroke-width="0.8"/>
<text x="505.50" y="384.90" font-size="6.8" text-anchor="middle" font-weight="normal" fill="#1e1e1e" stroke="#1e1e1e" stroke-width="0.18">30</text>
<text x="408.00" y="399.10" font-size="7.6" text-anchor="middle" font-weight="bold" fill="#1e1e1e"  textLength="77" lengthAdjust="spacingAndGlyphs" stroke="#1e1e1e" stroke-width="0.2">Day since Presentation</text>
<text transform="translate(282.90,338.00) rotate(-90)" x="0" y="2.74" font-size="7.6" text-anchor="middle" font-weight="bold" fill="#1e1e1e" stroke="#1e1e1e" stroke-width="0.2" textLength="57.4" lengthAdjust="spacingAndGlyphs">Schistocytes (%)</text>
<path d="M310.80,356.20 L311.21,355.28 L311.77,353.92 L312.44,352.35 L313.16,350.80 L313.90,348.93 L314.60,347.10 L315.22,346.82 L315.79,348.35 L316.36,350.16 L317.01,351.32 L317.81,352.15 L318.80,352.70 L320.06,352.97 L321.55,353.12 L323.18,353.16 L324.85,353.14 L326.49,353.07 L328.00,353.00 L329.36,352.86 L330.65,352.61 L331.90,352.33 L333.15,352.07 L334.44,351.90 L335.80,351.90 L337.13,352.09 L338.36,352.41 L339.64,352.84 L341.08,353.31 L342.83,353.79 L345.00,354.22 L347.77,354.63 L351.05,355.05 L354.64,355.48 L358.30,355.89 L361.83,356.27 L365.00,356.60 L367.79,356.86 L370.37,357.08 L372.81,357.27 L375.19,357.44 L377.56,357.60 L380.00,357.76 L382.56,357.92 L385.21,358.08 L387.85,358.22 L390.41,358.34 L392.82,358.45 L395.00,358.52 L397.00,358.57 L398.90,358.57 L400.64,358.56 L402.17,358.54 L403.44,358.51 L404.40,358.50 L404.40,365.50 L403.44,365.51 L402.17,365.52 L400.64,365.54 L398.90,365.54 L397.00,365.53 L395.00,365.48 L392.82,365.39 L390.41,365.27 L387.85,365.13 L385.21,364.98 L382.56,364.81 L380.00,364.64 L377.56,364.47 L375.19,364.30 L372.81,364.11 L370.37,363.91 L367.79,363.68 L365.00,363.40 L361.83,363.09 L358.30,362.74 L354.64,362.36 L351.05,361.96 L347.77,361.56 L345.00,361.18 L342.83,360.77 L341.08,360.30 L339.64,359.84 L338.36,359.41 L337.13,359.09 L335.80,358.90 L334.44,358.90 L333.15,359.07 L331.90,359.33 L330.65,359.61 L329.36,359.86 L328.00,360.00 L326.49,360.07 L324.85,360.14 L323.18,360.16 L321.55,360.12 L320.06,359.97 L318.80,359.70 L317.81,359.15 L317.01,358.32 L316.36,357.62 L315.79,357.74 L315.22,358.09 L314.60,357.50 L313.90,356.52 L313.16,356.42 L312.44,357.17 L311.77,357.99 L311.21,358.73 L310.80,359.20Z" fill="#c8d0e8"/>
<path d="M310.80,357.70 L311.21,357.00 L311.77,355.96 L312.44,354.76 L313.16,353.61 L313.90,352.72 L314.60,352.30 L315.22,352.45 L315.79,353.04 L316.36,353.89 L317.01,354.82 L317.81,355.65 L318.80,356.20 L320.06,356.47 L321.55,356.62 L323.18,356.66 L324.85,356.64 L326.49,356.57 L328.00,356.50 L329.36,356.36 L330.65,356.11 L331.90,355.83 L333.15,355.57 L334.44,355.40 L335.80,355.40 L337.13,355.59 L338.36,355.91 L339.64,356.34 L341.08,356.81 L342.83,357.28 L345.00,357.70 L347.77,358.10 L351.05,358.51 L354.64,358.92 L358.30,359.31 L361.83,359.68 L365.00,360.00 L367.79,360.27 L370.37,360.50 L372.81,360.69 L375.19,360.87 L377.56,361.04 L380.00,361.20 L382.56,361.37 L385.21,361.53 L387.85,361.67 L390.41,361.81 L392.82,361.92 L395.00,362.00 L397.00,362.05 L398.90,362.06 L400.64,362.05 L402.17,362.03 L403.44,362.01 L404.40,362.00" fill="none" stroke="#55659c" stroke-width="1.1" stroke-linejoin="round"/>
<path d="M311.25,313.00 L343.75,340.50 L361.25,324.50 L367.50,323.00 L385.00,347.50 L401.50,340.20 L404.80,361.80 L406.90,356.40 L420.90,361.00 L433.30,363.90 L439.80,359.60 L444.60,363.90 L452.70,359.90 L459.40,359.10 L465.60,365.50 L477.50,365.00 L492.50,366.90 L498.50,365.50 L505.20,370.40" fill="none" stroke="#222" stroke-width="0.8" stroke-linejoin="round"/>
<circle cx="311.25" cy="313.00" r="1.45" fill="#111"/>
<circle cx="343.75" cy="340.50" r="1.45" fill="#111"/>
<circle cx="361.25" cy="324.50" r="1.45" fill="#111"/>
<circle cx="367.50" cy="323.00" r="1.45" fill="#111"/>
<circle cx="385.00" cy="347.50" r="1.45" fill="#111"/>
<circle cx="401.50" cy="340.20" r="1.45" fill="#111"/>
<circle cx="404.80" cy="361.80" r="1.45" fill="#111"/>
<circle cx="406.90" cy="356.40" r="1.45" fill="#111"/>
<circle cx="420.90" cy="361.00" r="1.45" fill="#111"/>
<circle cx="433.30" cy="363.90" r="1.45" fill="#111"/>
<circle cx="439.80" cy="359.60" r="1.45" fill="#111"/>
<circle cx="444.60" cy="363.90" r="1.45" fill="#111"/>
<circle cx="452.70" cy="359.90" r="1.45" fill="#111"/>
<circle cx="459.40" cy="359.10" r="1.45" fill="#111"/>
<circle cx="465.60" cy="365.50" r="1.45" fill="#111"/>
<circle cx="477.50" cy="365.00" r="1.45" fill="#111"/>
<circle cx="492.50" cy="366.90" r="1.45" fill="#111"/>
<circle cx="498.50" cy="365.50" r="1.45" fill="#111"/>
<circle cx="505.20" cy="370.40" r="1.45" fill="#111"/>
<line x1="402.20" y1="343.30" x2="403.80" y2="353.80" stroke="#d9432b" stroke-width="1.0"/>
<line x1="382.20" y1="332.60" x2="382.20" y2="336.20" stroke="#1e7a52" stroke-width="0.9"/>
<path d="M380.75,335.80 L383.65,335.80 L382.20,338.20Z" fill="#1e7a52"/>
<line x1="402.90" y1="332.60" x2="402.90" y2="336.60" stroke="#d9432b" stroke-width="0.9"/>
<path d="M401.45,336.20 L404.35,336.20 L402.90,338.60Z" fill="#d9432b"/>
<text x="5.80" y="423.20" font-size="9.2" text-anchor="start" font-weight="bold" fill="#1e1e1e"  stroke="#1e1e1e" stroke-width="0.2">G</text>
<text x="17.30" y="423.20" font-size="8.0" text-anchor="start" font-weight="bold" fill="#1e1e1e"  textLength="169" lengthAdjust="spacingAndGlyphs" stroke="#1e1e1e" stroke-width="0.2">Gross Appearance of the Patient’s Plasma Sample</text>
<defs><radialGradient id="g12a" cx="0.4" cy="0.45" r="0.7" fx="0.4" fy="0.45"><stop offset="0" stop-color="#361518" stop-opacity="1"/><stop offset="1" stop-color="#280e10" stop-opacity="1"/></radialGradient><linearGradient id="g13a" x1="0" y1="0" x2="1" y2="0"><stop offset="0" stop-color="#8c1c22" stop-opacity="1"/><stop offset="0.55" stop-color="#741619" stop-opacity="1"/><stop offset="1" stop-color="#4c0b10" stop-opacity="1"/></linearGradient><radialGradient id="g13b" cx="0.35" cy="0.45" r="0.45" fx="0.35" fy="0.45"><stop offset="0" stop-color="#a03030" stop-opacity="0.55"/><stop offset="1" stop-color="#a03030" stop-opacity="0"/></radialGradient><linearGradient id="g13c" x1="0" y1="0" x2="0" y2="1"><stop offset="0" stop-color="#000" stop-opacity="0"/><stop offset="0.85" stop-color="#000" stop-opacity="0"/><stop offset="1" stop-color="#300" stop-opacity="0.35"/></linearGradient><linearGradient id="g14a" x1="0" y1="0" x2="0" y2="1"><stop offset="0" stop-color="#5c1217" stop-opacity="1"/><stop offset="0.5" stop-color="#6a1c20" stop-opacity="1"/><stop offset="1" stop-color="#5a1418" stop-opacity="1"/></linearGradient><linearGradient id="g14b" x1="0" y1="0" x2="0" y2="1"><stop offset="0" stop-color="#8a5a58" stop-opacity="0"/><stop offset="0.55" stop-color="#8a5a58" stop-opacity="0"/><stop offset="0.74" stop-color="#8e605e" stop-opacity="0.7"/><stop offset="0.92" stop-color="#8a5a58" stop-opacity="0"/><stop offset="1" stop-color="#8a5a58" stop-opacity="0"/></linearGradient><linearGradient id="g14c" x1="0" y1="0" x2="1" y2="0"><stop offset="0" stop-color="#000" stop-opacity="0"/><stop offset="0.75" stop-color="#000" stop-opacity="0"/><stop offset="1" stop-color="#200" stop-opacity="0.45"/></linearGradient><radialGradient id="g15a" cx="0.5" cy="0.5" r="0.75" fx="0.5" fy="0.5"><stop offset="0" stop-color="#d57e34" stop-opacity="1"/><stop offset="1" stop-color="#c26c2a" stop-opacity="1"/></radialGradient><linearGradient id="g16a" x1="0" y1="0" x2="1" y2="0"><stop offset="0" stop-color="#a95a28" stop-opacity="1"/><stop offset="0.3" stop-color="#bb662c" stop-opacity="1"/><stop offset="1" stop-color="#bd682e" stop-opacity="1"/></linearGradient><linearGradient id="g17a" x1="0" y1="0" x2="0" y2="1"><stop offset="0" stop-color="#9c3a1c" stop-opacity="1"/><stop offset="0.35" stop-color="#d85c1c" stop-opacity="1"/><stop offset="0.7" stop-color="#ec701e" stop-opacity="1"/><stop offset="1" stop-color="#f07c24" stop-opacity="1"/></linearGradient><linearGradient id="g17b" x1="0" y1="0" x2="1" y2="0"><stop offset="0" stop-color="#5a1a08" stop-opacity="0.35"/><stop offset="0.25" stop-color="#5a1a08" stop-opacity="0"/><stop offset="0.8" stop-color="#5a1a08" stop-opacity="0"/><stop offset="1" stop-color="#5a1a08" stop-opacity="0.25"/></linearGradient><linearGradient id="g18a" x1="0" y1="0" x2="1" y2="0"><stop offset="0" stop-color="#8a3c1e" stop-opacity="1"/><stop offset="0.5" stop-color="#9c4824" stop-opacity="1"/><stop offset="1" stop-color="#a24e26" stop-opacity="1"/></linearGradient><linearGradient id="g19a" x1="0" y1="0" x2="1" y2="0"><stop offset="0" stop-color="#6e5a2a" stop-opacity="1"/><stop offset="0.3" stop-color="#7a5026" stop-opacity="1"/><stop offset="0.6" stop-color="#6a3a1a" stop-opacity="1"/><stop offset="1" stop-color="#5e2e16" stop-opacity="1"/></linearGradient><linearGradient id="g19b" x1="0" y1="0" x2="0" y2="1"><stop offset="0" stop-color="#a05a2a" stop-opacity="0"/><stop offset="0.6" stop-color="#a05a2a" stop-opacity="0"/><stop offset="1" stop-color="#a05a2a" stop-opacity="0.45"/></linearGradient><radialGradient id="g20a" cx="0.5" cy="0.5" r="0.7" fx="0.5" fy="0.5"><stop offset="0" stop-color="#b0622e" stop-opacity="1"/><stop offset="1" stop-color="#a4582a" stop-opacity="1"/></radialGradient><linearGradient id="g21a" x1="0" y1="0" x2="0" y2="1"><stop offset="0" stop-color="#ad6634" stop-opacity="1"/><stop offset="0.55" stop-color="#c27c46" stop-opacity="1"/><stop offset="1" stop-color="#b06a36" stop-opacity="1"/></linearGradient><radialGradient id="g22a" cx="0.5" cy="0.5" r="0.7" fx="0.5" fy="0.5"><stop offset="0" stop-color="#c8763a" stop-opacity="1"/><stop offset="1" stop-color="#b8662e" stop-opacity="1"/></radialGradient><linearGradient id="g23a" x1="0" y1="0" x2="0" y2="1"><stop offset="0" stop-color="#a8461e" stop-opacity="1"/><stop offset="0.3" stop-color="#c4561c" stop-opacity="1"/><stop offset="0.55" stop-color="#e4641a" stop-opacity="1"/><stop offset="0.84" stop-color="#e46a18" stop-opacity="1"/><stop offset="0.93" stop-color="#9a4a18" stop-opacity="1"/><stop offset="1" stop-color="#6e3414" stop-opacity="1"/></linearGradient><linearGradient id="g24a" x1="0" y1="0" x2="0" y2="1"><stop offset="0" stop-color="#c8701e" stop-opacity="1"/><stop offset="0.45" stop-color="#e07618" stop-opacity="1"/><stop offset="1" stop-color="#e87c1a" stop-opacity="1"/></linearGradient><radialGradient id="g24b" cx="0.2" cy="0.2" r="0.4" fx="0.2" fy="0.2"><stop offset="0" stop-color="#f0b848" stop-opacity="0.0"/><stop offset="1" stop-color="#f0b848" stop-opacity="0"/></radialGradient><radialGradient id="g24c" cx="0.85" cy="0.0" r="0.5" fx="0.85" fy="0.0"><stop offset="0" stop-color="#5a3414" stop-opacity="0.95"/><stop offset="1" stop-color="#5a3414" stop-opacity="0"/></radialGradient><linearGradient id="g25a" x1="0" y1="0" x2="0" y2="1"><stop offset="0" stop-color="#c26a2e" stop-opacity="1"/><stop offset="0.75" stop-color="#cc7232" stop-opacity="1"/><stop offset="1" stop-color="#dc8c3c" stop-opacity="1"/></linearGradient><linearGradient id="g26a" x1="0" y1="0" x2="0" y2="1"><stop offset="0" stop-color="#a87040" stop-opacity="1"/><stop offset="1" stop-color="#b87c48" stop-opacity="1"/></linearGradient><radialGradient id="g26b" cx="0.25" cy="0.72" r="0.3" fx="0.25" fy="0.72"><stop offset="0" stop-color="#e0ccb8" stop-opacity="0.0"/><stop offset="1" stop-color="#e0ccb8" stop-opacity="0"/></radialGradient><filter id="blur1" x="-50%" y="-50%" width="200%" height="200%"><feGaussianBlur stdDeviation="1.2"/></filter><filter id="blur2" x="-50%" y="-50%" width="200%" height="200%"><feGaussianBlur stdDeviation="2.2"/></filter><clipPath id="sw0"><rect x="10.60" y="449.0" width="30.2" height="30.8"/></clipPath><clipPath id="sw1"><rect x="44.14" y="449.0" width="30.2" height="30.8"/></clipPath><clipPath id="sw2"><rect x="77.68" y="449.0" width="30.2" height="30.8"/></clipPath><clipPath id="sw3"><rect x="111.22" y="449.0" width="30.2" height="30.8"/></clipPath><clipPath id="sw4"><rect x="144.76" y="449.0" width="30.2" height="30.8"/></clipPath><clipPath id="sw5"><rect x="178.30" y="449.0" width="30.2" height="30.8"/></clipPath><clipPath id="sw6"><rect x="211.84" y="449.0" width="30.2" height="30.8"/></clipPath><clipPath id="sw7"><rect x="245.38" y="449.0" width="30.2" height="30.8"/></clipPath><clipPath id="sw8"><rect x="278.92" y="449.0" width="30.2" height="30.8"/></clipPath><clipPath id="sw9"><rect x="312.46" y="449.0" width="30.2" height="30.8"/></clipPath><clipPath id="sw10"><rect x="346.00" y="449.0" width="30.2" height="30.8"/></clipPath><clipPath id="sw11"><rect x="379.54" y="449.0" width="30.2" height="30.8"/></clipPath><clipPath id="sw12"><rect x="413.08" y="449.0" width="30.2" height="30.8"/></clipPath><clipPath id="sw13"><rect x="446.62" y="449.0" width="30.2" height="30.8"/></clipPath><clipPath id="sw14"><rect x="480.16" y="449.0" width="30.2" height="30.8"/></clipPath></defs>
<rect x="10.60" y="449.0" width="30.2" height="30.8" fill="url(#g12a)"/>
<text x="25.70" y="489.60" font-size="6.8" text-anchor="middle" font-weight="normal" fill="#1e1e1e"  stroke="#1e1e1e" stroke-width="0.18">12</text>
<rect x="44.14" y="449.0" width="30.2" height="30.8" fill="url(#g13a)"/>
<rect x="44.14" y="449.0" width="30.2" height="30.8" fill="url(#g13b)"/>
<rect x="44.14" y="449.0" width="30.2" height="30.8" fill="url(#g13c)"/>
<text x="59.24" y="489.60" font-size="6.8" text-anchor="middle" font-weight="normal" fill="#1e1e1e"  stroke="#1e1e1e" stroke-width="0.18">13</text>
<rect x="77.68" y="449.0" width="30.2" height="30.8" fill="url(#g14a)"/>
<rect x="77.68" y="449.0" width="30.2" height="30.8" fill="url(#g14b)"/>
<rect x="77.68" y="449.0" width="30.2" height="30.8" fill="url(#g14c)"/>
<text x="92.78" y="489.60" font-size="6.8" text-anchor="middle" font-weight="normal" fill="#1e1e1e"  stroke="#1e1e1e" stroke-width="0.18">14</text>
<rect x="111.22" y="449.0" width="30.2" height="30.8" fill="url(#g15a)"/>
<text x="126.32" y="489.60" font-size="6.8" text-anchor="middle" font-weight="normal" fill="#1e1e1e"  stroke="#1e1e1e" stroke-width="0.18">15</text>
<rect x="144.76" y="449.0" width="30.2" height="30.8" fill="url(#g16a)"/>
<text x="159.86" y="489.60" font-size="6.8" text-anchor="middle" font-weight="normal" fill="#1e1e1e"  stroke="#1e1e1e" stroke-width="0.18">16</text>
<rect x="178.30" y="449.0" width="30.2" height="30.8" fill="url(#g17a)"/>
<rect x="178.30" y="449.0" width="30.2" height="30.8" fill="url(#g17b)"/>
<text x="193.40" y="489.60" font-size="6.8" text-anchor="middle" font-weight="normal" fill="#1e1e1e"  stroke="#1e1e1e" stroke-width="0.18">17</text>
<rect x="211.84" y="449.0" width="30.2" height="30.8" fill="url(#g18a)"/>
<text x="226.94" y="489.60" font-size="6.8" text-anchor="middle" font-weight="normal" fill="#1e1e1e"  stroke="#1e1e1e" stroke-width="0.18">18</text>
<rect x="245.38" y="449.0" width="30.2" height="30.8" fill="url(#g19a)"/>
<rect x="245.38" y="449.0" width="30.2" height="30.8" fill="url(#g19b)"/>
<text x="260.48" y="489.60" font-size="6.8" text-anchor="middle" font-weight="normal" fill="#1e1e1e"  stroke="#1e1e1e" stroke-width="0.18">19</text>
<rect x="278.92" y="449.0" width="30.2" height="30.8" fill="url(#g20a)"/>
<text x="294.02" y="489.60" font-size="6.8" text-anchor="middle" font-weight="normal" fill="#1e1e1e"  stroke="#1e1e1e" stroke-width="0.18">20</text>
<rect x="312.46" y="449.0" width="30.2" height="30.8" fill="url(#g21a)"/>
<text x="327.56" y="489.60" font-size="6.8" text-anchor="middle" font-weight="normal" fill="#1e1e1e"  stroke="#1e1e1e" stroke-width="0.18">21</text>
<rect x="346.00" y="449.0" width="30.2" height="30.8" fill="url(#g22a)"/>
<text x="361.10" y="489.60" font-size="6.8" text-anchor="middle" font-weight="normal" fill="#1e1e1e"  stroke="#1e1e1e" stroke-width="0.18">22</text>
<rect x="379.54" y="449.0" width="30.2" height="30.8" fill="url(#g23a)"/>
<g clip-path="url(#sw11)"><polygon points="381.05,452.08 384.07,450.54 397.66,462.86 394.64,464.40" fill="#d88a50" opacity="0.45" filter="url(#blur1)"/></g>
<text x="394.64" y="489.60" font-size="6.8" text-anchor="middle" font-weight="normal" fill="#1e1e1e"  stroke="#1e1e1e" stroke-width="0.18">23</text>
<rect x="413.08" y="449.0" width="30.2" height="30.8" fill="url(#g24a)"/>
<rect x="413.08" y="449.0" width="30.2" height="30.8" fill="url(#g24b)"/>
<rect x="413.08" y="449.0" width="30.2" height="30.8" fill="url(#g24c)"/>
<g clip-path="url(#sw12)"><polygon points="413.08,449.00 420.63,449.00 429.69,465.94 426.67,467.48" fill="#f6c050" opacity="0.55" filter="url(#blur1)"/><polygon points="413.08,452.08 416.70,450.54 423.65,469.02 420.63,470.56" fill="#f6c050" opacity="0.5" filter="url(#blur1)"/><polygon points="422.14,449.00 426.67,449.00 434.22,461.32 431.80,462.86" fill="#f0b040" opacity="0.35" filter="url(#blur1)"/></g>
<text x="428.18" y="489.60" font-size="6.8" text-anchor="middle" font-weight="normal" fill="#1e1e1e"  stroke="#1e1e1e" stroke-width="0.18">24</text>
<rect x="446.62" y="449.0" width="30.2" height="30.8" fill="url(#g25a)"/>
<g clip-path="url(#sw13)"><polygon points="448.13,475.18 464.74,474.26 464.74,476.72 448.13,477.64" fill="#f0a040" opacity="0.6" filter="url(#blur1)"/></g>
<text x="461.72" y="489.60" font-size="6.8" text-anchor="middle" font-weight="normal" fill="#1e1e1e"  stroke="#1e1e1e" stroke-width="0.18">25</text>
<rect x="480.16" y="449.0" width="30.2" height="30.8" fill="url(#g26a)"/>
<rect x="480.16" y="449.0" width="30.2" height="30.8" fill="url(#g26b)"/>
<g clip-path="url(#sw14)"><polygon points="483.78,467.48 486.20,465.94 498.28,474.26 495.26,476.10 484.39,474.87" fill="#e8dccc" opacity="0.55" filter="url(#blur1)"/></g>
<text x="495.26" y="489.60" font-size="6.8" text-anchor="middle" font-weight="normal" fill="#1e1e1e"  stroke="#1e1e1e" stroke-width="0.18">26</text>
<line x1="110.5" y1="444.5" x2="501" y2="444.5" stroke="#666" stroke-width="1.0"/>
<path d="M499.5,442.3 L505,444.5 L499.5,446.7Z" fill="#666"/>
<circle cx="110.5" cy="444.5" r="1.7" fill="#111"/>
<line x1="110.20" y1="432.30" x2="110.20" y2="438.50" stroke="#d9432b" stroke-width="0.9"/>
<path d="M108.75,438.10 L111.65,438.10 L110.20,440.50Z" fill="#d9432b"/>
<text x="118.00" y="439.60" font-size="7.25" text-anchor="start" font-weight="normal" fill="#1e1e1e"  textLength="80" lengthAdjust="spacingAndGlyphs" stroke="#1e1e1e" stroke-width="0.18">Recombinant ADAMTS13</text>
<text x="260.00" y="502.60" font-size="7.6" text-anchor="middle" font-weight="bold" fill="#1e1e1e"  textLength="81" lengthAdjust="spacingAndGlyphs" stroke="#1e1e1e" stroke-width="0.2">Days since Presentation</text>
<line x1="1.50" y1="0.00" x2="1.50" y2="516.00" stroke="#5e5e5e" stroke-width="1"/>
<line x1="0.00" y1="0.50" x2="520.00" y2="0.50" stroke="#5e5e5e" stroke-width="1"/>
<line x1="519.50" y1="0.00" x2="519.50" y2="516.00" stroke="#5e5e5e" stroke-width="1"/>
<line x1="0.00" y1="515.50" x2="520.00" y2="515.50" stroke="#5e5e5e" stroke-width="1"/>
<line x1="0.00" y1="20.50" x2="520.00" y2="20.50" stroke="#5e5e5e" stroke-width="1"/>
<line x1="0.00" y1="153.40" x2="520.00" y2="153.40" stroke="#5e5e5e" stroke-width="1"/>
<line x1="0.00" y1="281.90" x2="520.00" y2="281.90" stroke="#7a7a7a" stroke-width="1.4"/>
<line x1="0.00" y1="410.40" x2="520.00" y2="410.40" stroke="#5e5e5e" stroke-width="1.1"/>
<line x1="260.50" y1="20.00" x2="260.50" y2="410.50" stroke="#6a6a6a" stroke-width="1.1"/>
</svg></body></html>
